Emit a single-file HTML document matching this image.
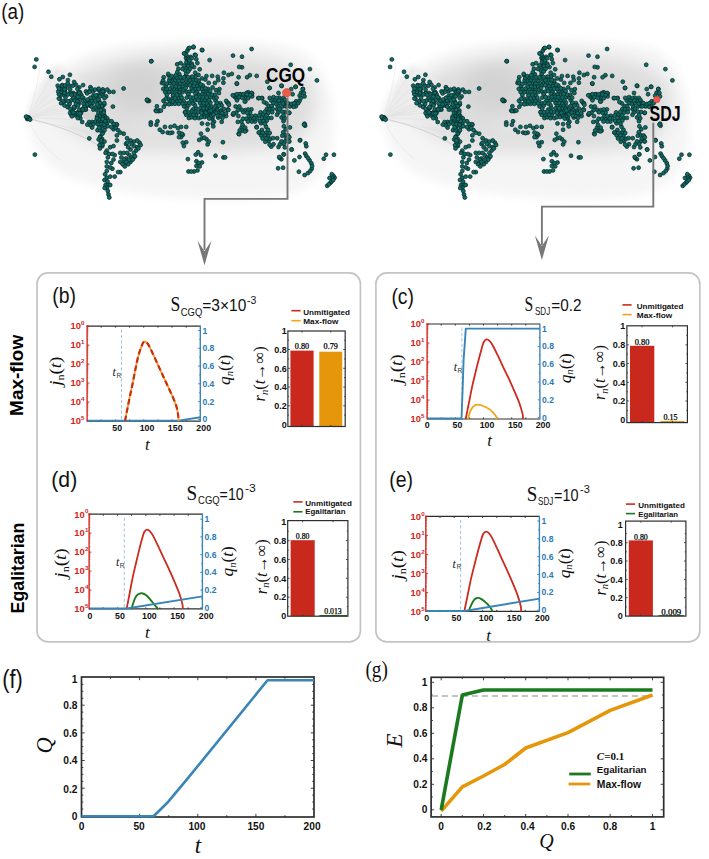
<!DOCTYPE html>
<html><head><meta charset="utf-8"><style>
html,body{margin:0;padding:0;background:#fff;overflow:hidden;width:709px;height:859px;}
svg{display:block;}
</style></head><body>
<svg width="709" height="859" viewBox="0 0 709 859" font-family="Liberation Sans, sans-serif">
<rect width="709" height="859" fill="#fff"/>
<rect x="37.0" y="272.9" width="323.4" height="369.0" rx="11" ry="11" fill="none" stroke="#c4c4c4" stroke-width="1.7"/>
<rect x="375.9" y="272.9" width="323.9" height="369.0" rx="11" ry="11" fill="none" stroke="#c4c4c4" stroke-width="1.7"/>
<clipPath id="cb"><rect x="87.1" y="326.1" width="113.2" height="96.2"/></clipPath>
<line x1="86.39999999999999" y1="326.1" x2="200.3" y2="326.1" stroke="#2e2e2e" stroke-width="1.2"/>
<line x1="87.1" y1="421.1" x2="200.3" y2="421.1" stroke="#2e2e2e" stroke-width="1.2"/>
<line x1="101.2" y1="326.1" x2="101.2" y2="327.70000000000005" stroke="#2e2e2e" stroke-width="0.9"/>
<line x1="101.2" y1="421.1" x2="101.2" y2="419.5" stroke="#2e2e2e" stroke-width="0.9"/>
<line x1="115.4" y1="326.1" x2="115.4" y2="327.70000000000005" stroke="#2e2e2e" stroke-width="0.9"/>
<line x1="115.4" y1="421.1" x2="115.4" y2="419.5" stroke="#2e2e2e" stroke-width="0.9"/>
<line x1="129.6" y1="326.1" x2="129.6" y2="327.70000000000005" stroke="#2e2e2e" stroke-width="0.9"/>
<line x1="129.6" y1="421.1" x2="129.6" y2="419.5" stroke="#2e2e2e" stroke-width="0.9"/>
<line x1="143.7" y1="326.1" x2="143.7" y2="327.70000000000005" stroke="#2e2e2e" stroke-width="0.9"/>
<line x1="143.7" y1="421.1" x2="143.7" y2="419.5" stroke="#2e2e2e" stroke-width="0.9"/>
<line x1="157.9" y1="326.1" x2="157.9" y2="327.70000000000005" stroke="#2e2e2e" stroke-width="0.9"/>
<line x1="157.9" y1="421.1" x2="157.9" y2="419.5" stroke="#2e2e2e" stroke-width="0.9"/>
<line x1="172.0" y1="326.1" x2="172.0" y2="327.70000000000005" stroke="#2e2e2e" stroke-width="0.9"/>
<line x1="172.0" y1="421.1" x2="172.0" y2="419.5" stroke="#2e2e2e" stroke-width="0.9"/>
<line x1="186.2" y1="326.1" x2="186.2" y2="327.70000000000005" stroke="#2e2e2e" stroke-width="0.9"/>
<line x1="186.2" y1="421.1" x2="186.2" y2="419.5" stroke="#2e2e2e" stroke-width="0.9"/>
<line x1="121.5" y1="329.6" x2="121.5" y2="421.1" stroke="#93bde0" stroke-width="0.9" stroke-dasharray="3.2,2.2"/>
<text x="112.6" y="375.7" font-size="12" fill="#222" font-style="italic" font-family="Liberation Serif, serif">t</text>
<text x="116.40" y="377.60" font-size="6.6" fill="#333" font-family="Liberation Sans, sans-serif">R</text>
<g clip-path="url(#cb)">
<path d="M87.10,420.60 L178.50,420.60 L200.50,417.30" fill="none" stroke="#3a85b8" stroke-width="1.9" stroke-linejoin="round" stroke-linecap="butt"/>
<path d="M125.00,421.10 C125.37,419.19 126.39,413.77 127.20,409.65 C128.02,405.53 128.98,400.79 129.90,396.38 C130.81,391.96 131.76,387.79 132.69,383.18 C133.63,378.57 134.59,373.15 135.51,368.71 C136.42,364.27 137.28,360.04 138.20,356.55 C139.11,353.05 140.16,350.03 140.99,347.72 C141.83,345.42 142.46,343.73 143.20,342.71 C143.93,341.69 144.57,341.32 145.40,341.60 C146.23,341.88 146.99,342.45 148.19,344.38 C149.39,346.32 150.77,349.34 152.60,353.21 C154.44,357.08 157.00,362.79 159.21,367.60 C161.42,372.41 163.67,377.27 165.88,382.07 C168.10,386.86 170.74,392.32 172.49,396.38 C174.25,400.43 175.49,403.44 176.41,406.39 C177.33,409.35 177.64,411.65 178.00,414.10 C178.37,416.56 178.50,419.93 178.60,421.10" fill="none" stroke="#f0a416" stroke-width="1.8" stroke-linejoin="round" stroke-linecap="butt"/>
<path d="M125.00,421.10 C125.37,419.19 126.39,413.77 127.20,409.65 C128.02,405.53 128.98,400.79 129.90,396.38 C130.81,391.96 131.76,387.79 132.69,383.18 C133.63,378.57 134.59,373.15 135.51,368.71 C136.42,364.27 137.28,360.04 138.20,356.55 C139.11,353.05 140.16,350.03 140.99,347.72 C141.83,345.42 142.46,343.73 143.20,342.71 C143.93,341.69 144.57,341.32 145.40,341.60 C146.23,341.88 146.99,342.45 148.19,344.38 C149.39,346.32 150.77,349.34 152.60,353.21 C154.44,357.08 157.00,362.79 159.21,367.60 C161.42,372.41 163.67,377.27 165.88,382.07 C168.10,386.86 170.74,392.32 172.49,396.38 C174.25,400.43 175.49,403.44 176.41,406.39 C177.33,409.35 177.64,411.65 178.00,414.10 C178.37,416.56 178.50,419.93 178.60,421.10" fill="none" stroke="#cd2a1e" stroke-width="2.2" stroke-linejoin="round" stroke-linecap="butt" stroke-dasharray="5.5,3"/>
</g>
<line x1="87.1" y1="325.5" x2="87.1" y2="421.70000000000005" stroke="#cd2a1e" stroke-width="1.4"/>
<line x1="87.1" y1="339.4" x2="88.39999999999999" y2="339.4" stroke="#cd2a1e" stroke-width="0.6"/>
<line x1="87.1" y1="336.0" x2="88.39999999999999" y2="336.0" stroke="#cd2a1e" stroke-width="0.6"/>
<line x1="87.1" y1="333.7" x2="88.39999999999999" y2="333.7" stroke="#cd2a1e" stroke-width="0.6"/>
<line x1="87.1" y1="331.8" x2="88.39999999999999" y2="331.8" stroke="#cd2a1e" stroke-width="0.6"/>
<line x1="87.1" y1="330.3" x2="88.39999999999999" y2="330.3" stroke="#cd2a1e" stroke-width="0.6"/>
<line x1="87.1" y1="329.0" x2="88.39999999999999" y2="329.0" stroke="#cd2a1e" stroke-width="0.6"/>
<line x1="87.1" y1="327.9" x2="88.39999999999999" y2="327.9" stroke="#cd2a1e" stroke-width="0.6"/>
<line x1="87.1" y1="327.0" x2="88.39999999999999" y2="327.0" stroke="#cd2a1e" stroke-width="0.6"/>
<line x1="87.1" y1="326.1" x2="89.5" y2="326.1" stroke="#cd2a1e" stroke-width="0.9"/>
<line x1="87.1" y1="358.4" x2="88.39999999999999" y2="358.4" stroke="#cd2a1e" stroke-width="0.6"/>
<line x1="87.1" y1="355.0" x2="88.39999999999999" y2="355.0" stroke="#cd2a1e" stroke-width="0.6"/>
<line x1="87.1" y1="352.7" x2="88.39999999999999" y2="352.7" stroke="#cd2a1e" stroke-width="0.6"/>
<line x1="87.1" y1="350.8" x2="88.39999999999999" y2="350.8" stroke="#cd2a1e" stroke-width="0.6"/>
<line x1="87.1" y1="349.3" x2="88.39999999999999" y2="349.3" stroke="#cd2a1e" stroke-width="0.6"/>
<line x1="87.1" y1="348.0" x2="88.39999999999999" y2="348.0" stroke="#cd2a1e" stroke-width="0.6"/>
<line x1="87.1" y1="346.9" x2="88.39999999999999" y2="346.9" stroke="#cd2a1e" stroke-width="0.6"/>
<line x1="87.1" y1="346.0" x2="88.39999999999999" y2="346.0" stroke="#cd2a1e" stroke-width="0.6"/>
<line x1="87.1" y1="345.1" x2="89.5" y2="345.1" stroke="#cd2a1e" stroke-width="0.9"/>
<line x1="87.1" y1="377.4" x2="88.39999999999999" y2="377.4" stroke="#cd2a1e" stroke-width="0.6"/>
<line x1="87.1" y1="374.0" x2="88.39999999999999" y2="374.0" stroke="#cd2a1e" stroke-width="0.6"/>
<line x1="87.1" y1="371.7" x2="88.39999999999999" y2="371.7" stroke="#cd2a1e" stroke-width="0.6"/>
<line x1="87.1" y1="369.8" x2="88.39999999999999" y2="369.8" stroke="#cd2a1e" stroke-width="0.6"/>
<line x1="87.1" y1="368.3" x2="88.39999999999999" y2="368.3" stroke="#cd2a1e" stroke-width="0.6"/>
<line x1="87.1" y1="367.0" x2="88.39999999999999" y2="367.0" stroke="#cd2a1e" stroke-width="0.6"/>
<line x1="87.1" y1="365.9" x2="88.39999999999999" y2="365.9" stroke="#cd2a1e" stroke-width="0.6"/>
<line x1="87.1" y1="365.0" x2="88.39999999999999" y2="365.0" stroke="#cd2a1e" stroke-width="0.6"/>
<line x1="87.1" y1="364.1" x2="89.5" y2="364.1" stroke="#cd2a1e" stroke-width="0.9"/>
<line x1="87.1" y1="396.4" x2="88.39999999999999" y2="396.4" stroke="#cd2a1e" stroke-width="0.6"/>
<line x1="87.1" y1="393.0" x2="88.39999999999999" y2="393.0" stroke="#cd2a1e" stroke-width="0.6"/>
<line x1="87.1" y1="390.7" x2="88.39999999999999" y2="390.7" stroke="#cd2a1e" stroke-width="0.6"/>
<line x1="87.1" y1="388.8" x2="88.39999999999999" y2="388.8" stroke="#cd2a1e" stroke-width="0.6"/>
<line x1="87.1" y1="387.3" x2="88.39999999999999" y2="387.3" stroke="#cd2a1e" stroke-width="0.6"/>
<line x1="87.1" y1="386.0" x2="88.39999999999999" y2="386.0" stroke="#cd2a1e" stroke-width="0.6"/>
<line x1="87.1" y1="384.9" x2="88.39999999999999" y2="384.9" stroke="#cd2a1e" stroke-width="0.6"/>
<line x1="87.1" y1="384.0" x2="88.39999999999999" y2="384.0" stroke="#cd2a1e" stroke-width="0.6"/>
<line x1="87.1" y1="383.1" x2="89.5" y2="383.1" stroke="#cd2a1e" stroke-width="0.9"/>
<line x1="87.1" y1="415.4" x2="88.39999999999999" y2="415.4" stroke="#cd2a1e" stroke-width="0.6"/>
<line x1="87.1" y1="412.0" x2="88.39999999999999" y2="412.0" stroke="#cd2a1e" stroke-width="0.6"/>
<line x1="87.1" y1="409.7" x2="88.39999999999999" y2="409.7" stroke="#cd2a1e" stroke-width="0.6"/>
<line x1="87.1" y1="407.8" x2="88.39999999999999" y2="407.8" stroke="#cd2a1e" stroke-width="0.6"/>
<line x1="87.1" y1="406.3" x2="88.39999999999999" y2="406.3" stroke="#cd2a1e" stroke-width="0.6"/>
<line x1="87.1" y1="405.0" x2="88.39999999999999" y2="405.0" stroke="#cd2a1e" stroke-width="0.6"/>
<line x1="87.1" y1="403.9" x2="88.39999999999999" y2="403.9" stroke="#cd2a1e" stroke-width="0.6"/>
<line x1="87.1" y1="403.0" x2="88.39999999999999" y2="403.0" stroke="#cd2a1e" stroke-width="0.6"/>
<line x1="87.1" y1="402.1" x2="89.5" y2="402.1" stroke="#cd2a1e" stroke-width="0.9"/>
<line x1="200.3" y1="325.5" x2="200.3" y2="421.70000000000005" stroke="#3a85b8" stroke-width="1.4"/>
<line x1="200.3" y1="419.4" x2="198.10000000000002" y2="419.4" stroke="#3a85b8" stroke-width="0.9"/>
<line x1="200.3" y1="410.5" x2="199.10000000000002" y2="410.5" stroke="#3a85b8" stroke-width="0.9"/>
<line x1="200.3" y1="401.6" x2="198.10000000000002" y2="401.6" stroke="#3a85b8" stroke-width="0.9"/>
<line x1="200.3" y1="392.7" x2="199.10000000000002" y2="392.7" stroke="#3a85b8" stroke-width="0.9"/>
<line x1="200.3" y1="383.8" x2="198.10000000000002" y2="383.8" stroke="#3a85b8" stroke-width="0.9"/>
<line x1="200.3" y1="374.9" x2="199.10000000000002" y2="374.9" stroke="#3a85b8" stroke-width="0.9"/>
<line x1="200.3" y1="366.1" x2="198.10000000000002" y2="366.1" stroke="#3a85b8" stroke-width="0.9"/>
<line x1="200.3" y1="357.2" x2="199.10000000000002" y2="357.2" stroke="#3a85b8" stroke-width="0.9"/>
<line x1="200.3" y1="348.3" x2="198.10000000000002" y2="348.3" stroke="#3a85b8" stroke-width="0.9"/>
<line x1="200.3" y1="339.4" x2="199.10000000000002" y2="339.4" stroke="#3a85b8" stroke-width="0.9"/>
<line x1="200.3" y1="330.5" x2="198.10000000000002" y2="330.5" stroke="#3a85b8" stroke-width="0.9"/>
<text x="202.40" y="422.40" font-size="8.6" text-anchor="start" font-weight="bold" font-style="normal" fill="#2c7bb2" font-family="Liberation Sans, sans-serif">0</text>
<text x="202.40" y="404.62" font-size="8.6" text-anchor="start" font-weight="bold" font-style="normal" fill="#2c7bb2" font-family="Liberation Sans, sans-serif">0.2</text>
<text x="202.40" y="386.84" font-size="8.6" text-anchor="start" font-weight="bold" font-style="normal" fill="#2c7bb2" font-family="Liberation Sans, sans-serif">0.4</text>
<text x="202.40" y="369.06" font-size="8.6" text-anchor="start" font-weight="bold" font-style="normal" fill="#2c7bb2" font-family="Liberation Sans, sans-serif">0.6</text>
<text x="202.40" y="351.28" font-size="8.6" text-anchor="start" font-weight="bold" font-style="normal" fill="#2c7bb2" font-family="Liberation Sans, sans-serif">0.8</text>
<text x="202.40" y="333.50" font-size="8.6" text-anchor="start" font-weight="bold" font-style="normal" fill="#2c7bb2" font-family="Liberation Sans, sans-serif">1</text>
<text x="80.90" y="329.40" font-size="9.4" text-anchor="end" font-weight="bold" fill="#cf2522" font-family="Liberation Sans, sans-serif">10</text>
<text x="81.10" y="325.20" font-size="6.2" font-weight="bold" fill="#cf2522" font-family="Liberation Sans, sans-serif">0</text>
<text x="80.90" y="348.40" font-size="9.4" text-anchor="end" font-weight="bold" fill="#cf2522" font-family="Liberation Sans, sans-serif">10</text>
<text x="81.10" y="344.20" font-size="6.2" font-weight="bold" fill="#cf2522" font-family="Liberation Sans, sans-serif">1</text>
<text x="80.90" y="367.40" font-size="9.4" text-anchor="end" font-weight="bold" fill="#cf2522" font-family="Liberation Sans, sans-serif">10</text>
<text x="81.10" y="363.20" font-size="6.2" font-weight="bold" fill="#cf2522" font-family="Liberation Sans, sans-serif">2</text>
<text x="80.90" y="386.40" font-size="9.4" text-anchor="end" font-weight="bold" fill="#cf2522" font-family="Liberation Sans, sans-serif">10</text>
<text x="81.10" y="382.20" font-size="6.2" font-weight="bold" fill="#cf2522" font-family="Liberation Sans, sans-serif">3</text>
<text x="80.90" y="405.40" font-size="9.4" text-anchor="end" font-weight="bold" fill="#cf2522" font-family="Liberation Sans, sans-serif">10</text>
<text x="81.10" y="401.20" font-size="6.2" font-weight="bold" fill="#cf2522" font-family="Liberation Sans, sans-serif">4</text>
<text x="80.90" y="424.40" font-size="9.4" text-anchor="end" font-weight="bold" fill="#cf2522" font-family="Liberation Sans, sans-serif">10</text>
<text x="81.10" y="420.20" font-size="6.2" font-weight="bold" fill="#cf2522" font-family="Liberation Sans, sans-serif">5</text>
<text x="117.20" y="430.60" font-size="8.8" text-anchor="middle" font-weight="bold" font-style="normal" fill="#111" font-family="Liberation Sans, sans-serif">50</text>
<text x="147.00" y="430.60" font-size="8.8" text-anchor="middle" font-weight="bold" font-style="normal" fill="#111" font-family="Liberation Sans, sans-serif">100</text>
<text x="175.20" y="430.60" font-size="8.8" text-anchor="middle" font-weight="bold" font-style="normal" fill="#111" font-family="Liberation Sans, sans-serif">150</text>
<text x="203.70" y="430.60" font-size="8.8" text-anchor="middle" font-weight="bold" font-style="normal" fill="#111" font-family="Liberation Sans, sans-serif">200</text>
<text x="147.30" y="449.90" font-size="17" text-anchor="middle" font-weight="normal" font-style="italic" fill="#111" font-family="Liberation Serif, serif">t</text>
<text transform="translate(61.00,371.20) rotate(-90)" x="0" y="0" font-size="17.5" text-anchor="middle" font-weight="normal" font-style="normal" fill="#111" font-family="Liberation Serif, serif" textLength="29.3" lengthAdjust="spacingAndGlyphs"><tspan font-style="italic">j</tspan><tspan font-size="11" dy="2.5">n</tspan><tspan dy="-2.5">(</tspan><tspan font-style="italic">t</tspan>)</text>
<text transform="translate(230.20,369.90) rotate(-90)" x="0" y="0" font-size="17.5" text-anchor="middle" font-weight="normal" font-style="normal" fill="#111" font-family="Liberation Serif, serif" textLength="30.0" lengthAdjust="spacingAndGlyphs"><tspan font-style="italic">q</tspan><tspan font-size="11" dy="2.5" font-style="italic">n</tspan><tspan dy="-2.5">(</tspan><tspan font-style="italic">t</tspan>)</text>
<clipPath id="cc"><rect x="427.1" y="324.0" width="112.8" height="96.2"/></clipPath>
<line x1="426.40000000000003" y1="324.0" x2="539.9" y2="324.0" stroke="#2e2e2e" stroke-width="1.2"/>
<line x1="427.1" y1="419.0" x2="539.9" y2="419.0" stroke="#2e2e2e" stroke-width="1.2"/>
<line x1="441.2" y1="324.0" x2="441.2" y2="325.6" stroke="#2e2e2e" stroke-width="0.9"/>
<line x1="441.2" y1="419.0" x2="441.2" y2="417.4" stroke="#2e2e2e" stroke-width="0.9"/>
<line x1="455.3" y1="324.0" x2="455.3" y2="325.6" stroke="#2e2e2e" stroke-width="0.9"/>
<line x1="455.3" y1="419.0" x2="455.3" y2="417.4" stroke="#2e2e2e" stroke-width="0.9"/>
<line x1="469.4" y1="324.0" x2="469.4" y2="325.6" stroke="#2e2e2e" stroke-width="0.9"/>
<line x1="469.4" y1="419.0" x2="469.4" y2="417.4" stroke="#2e2e2e" stroke-width="0.9"/>
<line x1="483.5" y1="324.0" x2="483.5" y2="325.6" stroke="#2e2e2e" stroke-width="0.9"/>
<line x1="483.5" y1="419.0" x2="483.5" y2="417.4" stroke="#2e2e2e" stroke-width="0.9"/>
<line x1="497.6" y1="324.0" x2="497.6" y2="325.6" stroke="#2e2e2e" stroke-width="0.9"/>
<line x1="497.6" y1="419.0" x2="497.6" y2="417.4" stroke="#2e2e2e" stroke-width="0.9"/>
<line x1="511.7" y1="324.0" x2="511.7" y2="325.6" stroke="#2e2e2e" stroke-width="0.9"/>
<line x1="511.7" y1="419.0" x2="511.7" y2="417.4" stroke="#2e2e2e" stroke-width="0.9"/>
<line x1="525.8" y1="324.0" x2="525.8" y2="325.6" stroke="#2e2e2e" stroke-width="0.9"/>
<line x1="525.8" y1="419.0" x2="525.8" y2="417.4" stroke="#2e2e2e" stroke-width="0.9"/>
<line x1="461.9" y1="327.5" x2="461.9" y2="419.0" stroke="#93bde0" stroke-width="0.9" stroke-dasharray="3.2,2.2"/>
<text x="453.7" y="370.7" font-size="12" fill="#222" font-style="italic" font-family="Liberation Serif, serif">t</text>
<text x="457.50" y="372.60" font-size="6.6" fill="#333" font-family="Liberation Sans, sans-serif">R</text>
<g clip-path="url(#cc)">
<path d="M468.00,419.20 C468.30,418.10 469.15,414.42 469.80,412.60 C470.45,410.78 471.08,409.48 471.90,408.30 C472.72,407.12 473.75,406.10 474.70,405.50 C475.65,404.90 476.42,404.70 477.60,404.70 C478.78,404.70 480.40,405.07 481.80,405.50 C483.20,405.93 484.70,406.65 486.00,407.30 C487.30,407.95 488.42,408.52 489.60,409.40 C490.78,410.28 492.05,411.48 493.10,412.60 C494.15,413.72 495.20,415.00 495.90,416.10 C496.60,417.20 497.07,418.68 497.30,419.20" fill="none" stroke="#f0a416" stroke-width="1.8" stroke-linejoin="round" stroke-linecap="butt"/>
<path d="M465.70,419.00 C466.23,416.33 467.83,408.36 468.90,403.00 C469.96,397.64 471.01,391.86 472.10,386.84 C473.18,381.83 474.31,377.38 475.40,372.91 C476.48,368.44 477.53,364.14 478.60,360.02 C479.66,355.89 480.91,351.19 481.79,348.16 C482.68,345.12 483.10,343.25 483.90,341.79 C484.71,340.33 485.70,339.59 486.60,339.40 C487.50,339.21 488.31,339.74 489.29,340.67 C490.28,341.60 491.07,342.46 492.50,344.97 C493.93,347.48 496.10,352.04 497.88,355.72 C499.67,359.39 501.41,363.27 503.20,367.02 C504.98,370.78 506.80,374.41 508.59,378.24 C510.37,382.08 512.12,385.90 513.90,390.03 C515.68,394.15 517.86,399.06 519.29,403.00 C520.72,406.94 521.87,411.00 522.49,413.67 C523.11,416.33 522.92,418.11 523.00,419.00" fill="none" stroke="#cd2a1e" stroke-width="1.8" stroke-linejoin="round" stroke-linecap="butt"/>
<path d="M427.10,418.50 L461.50,418.50 L462.60,390.00 L463.60,360.00 L465.80,328.60 L540.50,328.60" fill="none" stroke="#3a85b8" stroke-width="1.9" stroke-linejoin="round" stroke-linecap="butt"/>
</g>
<line x1="427.1" y1="323.4" x2="427.1" y2="419.6" stroke="#cd2a1e" stroke-width="1.4"/>
<line x1="427.1" y1="337.3" x2="428.40000000000003" y2="337.3" stroke="#cd2a1e" stroke-width="0.6"/>
<line x1="427.1" y1="333.9" x2="428.40000000000003" y2="333.9" stroke="#cd2a1e" stroke-width="0.6"/>
<line x1="427.1" y1="331.6" x2="428.40000000000003" y2="331.6" stroke="#cd2a1e" stroke-width="0.6"/>
<line x1="427.1" y1="329.7" x2="428.40000000000003" y2="329.7" stroke="#cd2a1e" stroke-width="0.6"/>
<line x1="427.1" y1="328.2" x2="428.40000000000003" y2="328.2" stroke="#cd2a1e" stroke-width="0.6"/>
<line x1="427.1" y1="326.9" x2="428.40000000000003" y2="326.9" stroke="#cd2a1e" stroke-width="0.6"/>
<line x1="427.1" y1="325.8" x2="428.40000000000003" y2="325.8" stroke="#cd2a1e" stroke-width="0.6"/>
<line x1="427.1" y1="324.9" x2="428.40000000000003" y2="324.9" stroke="#cd2a1e" stroke-width="0.6"/>
<line x1="427.1" y1="324.0" x2="429.5" y2="324.0" stroke="#cd2a1e" stroke-width="0.9"/>
<line x1="427.1" y1="356.3" x2="428.40000000000003" y2="356.3" stroke="#cd2a1e" stroke-width="0.6"/>
<line x1="427.1" y1="352.9" x2="428.40000000000003" y2="352.9" stroke="#cd2a1e" stroke-width="0.6"/>
<line x1="427.1" y1="350.6" x2="428.40000000000003" y2="350.6" stroke="#cd2a1e" stroke-width="0.6"/>
<line x1="427.1" y1="348.7" x2="428.40000000000003" y2="348.7" stroke="#cd2a1e" stroke-width="0.6"/>
<line x1="427.1" y1="347.2" x2="428.40000000000003" y2="347.2" stroke="#cd2a1e" stroke-width="0.6"/>
<line x1="427.1" y1="345.9" x2="428.40000000000003" y2="345.9" stroke="#cd2a1e" stroke-width="0.6"/>
<line x1="427.1" y1="344.8" x2="428.40000000000003" y2="344.8" stroke="#cd2a1e" stroke-width="0.6"/>
<line x1="427.1" y1="343.9" x2="428.40000000000003" y2="343.9" stroke="#cd2a1e" stroke-width="0.6"/>
<line x1="427.1" y1="343.0" x2="429.5" y2="343.0" stroke="#cd2a1e" stroke-width="0.9"/>
<line x1="427.1" y1="375.3" x2="428.40000000000003" y2="375.3" stroke="#cd2a1e" stroke-width="0.6"/>
<line x1="427.1" y1="371.9" x2="428.40000000000003" y2="371.9" stroke="#cd2a1e" stroke-width="0.6"/>
<line x1="427.1" y1="369.6" x2="428.40000000000003" y2="369.6" stroke="#cd2a1e" stroke-width="0.6"/>
<line x1="427.1" y1="367.7" x2="428.40000000000003" y2="367.7" stroke="#cd2a1e" stroke-width="0.6"/>
<line x1="427.1" y1="366.2" x2="428.40000000000003" y2="366.2" stroke="#cd2a1e" stroke-width="0.6"/>
<line x1="427.1" y1="364.9" x2="428.40000000000003" y2="364.9" stroke="#cd2a1e" stroke-width="0.6"/>
<line x1="427.1" y1="363.8" x2="428.40000000000003" y2="363.8" stroke="#cd2a1e" stroke-width="0.6"/>
<line x1="427.1" y1="362.9" x2="428.40000000000003" y2="362.9" stroke="#cd2a1e" stroke-width="0.6"/>
<line x1="427.1" y1="362.0" x2="429.5" y2="362.0" stroke="#cd2a1e" stroke-width="0.9"/>
<line x1="427.1" y1="394.3" x2="428.40000000000003" y2="394.3" stroke="#cd2a1e" stroke-width="0.6"/>
<line x1="427.1" y1="390.9" x2="428.40000000000003" y2="390.9" stroke="#cd2a1e" stroke-width="0.6"/>
<line x1="427.1" y1="388.6" x2="428.40000000000003" y2="388.6" stroke="#cd2a1e" stroke-width="0.6"/>
<line x1="427.1" y1="386.7" x2="428.40000000000003" y2="386.7" stroke="#cd2a1e" stroke-width="0.6"/>
<line x1="427.1" y1="385.2" x2="428.40000000000003" y2="385.2" stroke="#cd2a1e" stroke-width="0.6"/>
<line x1="427.1" y1="383.9" x2="428.40000000000003" y2="383.9" stroke="#cd2a1e" stroke-width="0.6"/>
<line x1="427.1" y1="382.8" x2="428.40000000000003" y2="382.8" stroke="#cd2a1e" stroke-width="0.6"/>
<line x1="427.1" y1="381.9" x2="428.40000000000003" y2="381.9" stroke="#cd2a1e" stroke-width="0.6"/>
<line x1="427.1" y1="381.0" x2="429.5" y2="381.0" stroke="#cd2a1e" stroke-width="0.9"/>
<line x1="427.1" y1="413.3" x2="428.40000000000003" y2="413.3" stroke="#cd2a1e" stroke-width="0.6"/>
<line x1="427.1" y1="409.9" x2="428.40000000000003" y2="409.9" stroke="#cd2a1e" stroke-width="0.6"/>
<line x1="427.1" y1="407.6" x2="428.40000000000003" y2="407.6" stroke="#cd2a1e" stroke-width="0.6"/>
<line x1="427.1" y1="405.7" x2="428.40000000000003" y2="405.7" stroke="#cd2a1e" stroke-width="0.6"/>
<line x1="427.1" y1="404.2" x2="428.40000000000003" y2="404.2" stroke="#cd2a1e" stroke-width="0.6"/>
<line x1="427.1" y1="402.9" x2="428.40000000000003" y2="402.9" stroke="#cd2a1e" stroke-width="0.6"/>
<line x1="427.1" y1="401.8" x2="428.40000000000003" y2="401.8" stroke="#cd2a1e" stroke-width="0.6"/>
<line x1="427.1" y1="400.9" x2="428.40000000000003" y2="400.9" stroke="#cd2a1e" stroke-width="0.6"/>
<line x1="427.1" y1="400.0" x2="429.5" y2="400.0" stroke="#cd2a1e" stroke-width="0.9"/>
<line x1="539.9" y1="323.4" x2="539.9" y2="419.6" stroke="#3a85b8" stroke-width="1.4"/>
<line x1="539.9" y1="417.6" x2="537.6999999999999" y2="417.6" stroke="#3a85b8" stroke-width="0.9"/>
<line x1="539.9" y1="408.7" x2="538.6999999999999" y2="408.7" stroke="#3a85b8" stroke-width="0.9"/>
<line x1="539.9" y1="399.8" x2="537.6999999999999" y2="399.8" stroke="#3a85b8" stroke-width="0.9"/>
<line x1="539.9" y1="390.9" x2="538.6999999999999" y2="390.9" stroke="#3a85b8" stroke-width="0.9"/>
<line x1="539.9" y1="382.0" x2="537.6999999999999" y2="382.0" stroke="#3a85b8" stroke-width="0.9"/>
<line x1="539.9" y1="373.1" x2="538.6999999999999" y2="373.1" stroke="#3a85b8" stroke-width="0.9"/>
<line x1="539.9" y1="364.3" x2="537.6999999999999" y2="364.3" stroke="#3a85b8" stroke-width="0.9"/>
<line x1="539.9" y1="355.4" x2="538.6999999999999" y2="355.4" stroke="#3a85b8" stroke-width="0.9"/>
<line x1="539.9" y1="346.5" x2="537.6999999999999" y2="346.5" stroke="#3a85b8" stroke-width="0.9"/>
<line x1="539.9" y1="337.6" x2="538.6999999999999" y2="337.6" stroke="#3a85b8" stroke-width="0.9"/>
<line x1="539.9" y1="328.7" x2="537.6999999999999" y2="328.7" stroke="#3a85b8" stroke-width="0.9"/>
<text x="542.00" y="420.60" font-size="8.6" text-anchor="start" font-weight="bold" font-style="normal" fill="#2c7bb2" font-family="Liberation Sans, sans-serif">0</text>
<text x="542.00" y="402.82" font-size="8.6" text-anchor="start" font-weight="bold" font-style="normal" fill="#2c7bb2" font-family="Liberation Sans, sans-serif">0.2</text>
<text x="542.00" y="385.04" font-size="8.6" text-anchor="start" font-weight="bold" font-style="normal" fill="#2c7bb2" font-family="Liberation Sans, sans-serif">0.4</text>
<text x="542.00" y="367.26" font-size="8.6" text-anchor="start" font-weight="bold" font-style="normal" fill="#2c7bb2" font-family="Liberation Sans, sans-serif">0.6</text>
<text x="542.00" y="349.48" font-size="8.6" text-anchor="start" font-weight="bold" font-style="normal" fill="#2c7bb2" font-family="Liberation Sans, sans-serif">0.8</text>
<text x="542.00" y="331.70" font-size="8.6" text-anchor="start" font-weight="bold" font-style="normal" fill="#2c7bb2" font-family="Liberation Sans, sans-serif">1</text>
<text x="420.90" y="327.30" font-size="9.4" text-anchor="end" font-weight="bold" fill="#cf2522" font-family="Liberation Sans, sans-serif">10</text>
<text x="421.10" y="323.10" font-size="6.2" font-weight="bold" fill="#cf2522" font-family="Liberation Sans, sans-serif">0</text>
<text x="420.90" y="346.30" font-size="9.4" text-anchor="end" font-weight="bold" fill="#cf2522" font-family="Liberation Sans, sans-serif">10</text>
<text x="421.10" y="342.10" font-size="6.2" font-weight="bold" fill="#cf2522" font-family="Liberation Sans, sans-serif">1</text>
<text x="420.90" y="365.30" font-size="9.4" text-anchor="end" font-weight="bold" fill="#cf2522" font-family="Liberation Sans, sans-serif">10</text>
<text x="421.10" y="361.10" font-size="6.2" font-weight="bold" fill="#cf2522" font-family="Liberation Sans, sans-serif">2</text>
<text x="420.90" y="384.30" font-size="9.4" text-anchor="end" font-weight="bold" fill="#cf2522" font-family="Liberation Sans, sans-serif">10</text>
<text x="421.10" y="380.10" font-size="6.2" font-weight="bold" fill="#cf2522" font-family="Liberation Sans, sans-serif">3</text>
<text x="420.90" y="403.30" font-size="9.4" text-anchor="end" font-weight="bold" fill="#cf2522" font-family="Liberation Sans, sans-serif">10</text>
<text x="421.10" y="399.10" font-size="6.2" font-weight="bold" fill="#cf2522" font-family="Liberation Sans, sans-serif">4</text>
<text x="420.90" y="422.30" font-size="9.4" text-anchor="end" font-weight="bold" fill="#cf2522" font-family="Liberation Sans, sans-serif">10</text>
<text x="421.10" y="418.10" font-size="6.2" font-weight="bold" fill="#cf2522" font-family="Liberation Sans, sans-serif">5</text>
<text x="427.30" y="427.90" font-size="8.8" text-anchor="middle" font-weight="bold" font-style="normal" fill="#111" font-family="Liberation Sans, sans-serif">0</text>
<text x="457.50" y="427.90" font-size="8.8" text-anchor="middle" font-weight="bold" font-style="normal" fill="#111" font-family="Liberation Sans, sans-serif">50</text>
<text x="487.00" y="427.90" font-size="8.8" text-anchor="middle" font-weight="bold" font-style="normal" fill="#111" font-family="Liberation Sans, sans-serif">100</text>
<text x="515.30" y="427.90" font-size="8.8" text-anchor="middle" font-weight="bold" font-style="normal" fill="#111" font-family="Liberation Sans, sans-serif">150</text>
<text x="543.00" y="427.90" font-size="8.8" text-anchor="middle" font-weight="bold" font-style="normal" fill="#111" font-family="Liberation Sans, sans-serif">200</text>
<text x="489.60" y="446.20" font-size="17" text-anchor="middle" font-weight="normal" font-style="italic" fill="#111" font-family="Liberation Serif, serif">t</text>
<text transform="translate(402.00,369.00) rotate(-90)" x="0" y="0" font-size="17.5" text-anchor="middle" font-weight="normal" font-style="normal" fill="#111" font-family="Liberation Serif, serif" textLength="29.3" lengthAdjust="spacingAndGlyphs"><tspan font-style="italic">j</tspan><tspan font-size="11" dy="2.5">n</tspan><tspan dy="-2.5">(</tspan><tspan font-style="italic">t</tspan>)</text>
<text transform="translate(570.50,368.20) rotate(-90)" x="0" y="0" font-size="17.5" text-anchor="middle" font-weight="normal" font-style="normal" fill="#111" font-family="Liberation Serif, serif" textLength="30.0" lengthAdjust="spacingAndGlyphs"><tspan font-style="italic">q</tspan><tspan font-size="11" dy="2.5" font-style="italic">n</tspan><tspan dy="-2.5">(</tspan><tspan font-style="italic">t</tspan>)</text>
<clipPath id="cd"><rect x="89.1" y="514.2" width="113.3" height="95.9"/></clipPath>
<line x1="88.39999999999999" y1="514.2" x2="202.4" y2="514.2" stroke="#2e2e2e" stroke-width="1.2"/>
<line x1="89.1" y1="608.9" x2="202.4" y2="608.9" stroke="#2e2e2e" stroke-width="1.2"/>
<line x1="103.3" y1="514.2" x2="103.3" y2="515.8000000000001" stroke="#2e2e2e" stroke-width="0.9"/>
<line x1="103.3" y1="608.9" x2="103.3" y2="607.3" stroke="#2e2e2e" stroke-width="0.9"/>
<line x1="117.4" y1="514.2" x2="117.4" y2="515.8000000000001" stroke="#2e2e2e" stroke-width="0.9"/>
<line x1="117.4" y1="608.9" x2="117.4" y2="607.3" stroke="#2e2e2e" stroke-width="0.9"/>
<line x1="131.6" y1="514.2" x2="131.6" y2="515.8000000000001" stroke="#2e2e2e" stroke-width="0.9"/>
<line x1="131.6" y1="608.9" x2="131.6" y2="607.3" stroke="#2e2e2e" stroke-width="0.9"/>
<line x1="145.8" y1="514.2" x2="145.8" y2="515.8000000000001" stroke="#2e2e2e" stroke-width="0.9"/>
<line x1="145.8" y1="608.9" x2="145.8" y2="607.3" stroke="#2e2e2e" stroke-width="0.9"/>
<line x1="159.9" y1="514.2" x2="159.9" y2="515.8000000000001" stroke="#2e2e2e" stroke-width="0.9"/>
<line x1="159.9" y1="608.9" x2="159.9" y2="607.3" stroke="#2e2e2e" stroke-width="0.9"/>
<line x1="174.1" y1="514.2" x2="174.1" y2="515.8000000000001" stroke="#2e2e2e" stroke-width="0.9"/>
<line x1="174.1" y1="608.9" x2="174.1" y2="607.3" stroke="#2e2e2e" stroke-width="0.9"/>
<line x1="188.2" y1="514.2" x2="188.2" y2="515.8000000000001" stroke="#2e2e2e" stroke-width="0.9"/>
<line x1="188.2" y1="608.9" x2="188.2" y2="607.3" stroke="#2e2e2e" stroke-width="0.9"/>
<line x1="124.3" y1="517.7" x2="124.3" y2="608.9" stroke="#93bde0" stroke-width="0.9" stroke-dasharray="3.2,2.2"/>
<text x="116.0" y="565.9" font-size="12" fill="#222" font-style="italic" font-family="Liberation Serif, serif">t</text>
<text x="119.80" y="567.80" font-size="6.6" fill="#333" font-family="Liberation Sans, sans-serif">R</text>
<g clip-path="url(#cd)">
<path d="M126.60,608.90 C127.12,606.24 128.67,598.30 129.71,592.96 C130.74,587.62 131.76,581.86 132.81,576.86 C133.86,571.87 134.97,567.44 136.02,562.99 C137.07,558.53 138.09,554.25 139.13,550.14 C140.16,546.03 141.37,541.35 142.23,538.32 C143.09,535.30 143.50,533.43 144.28,531.98 C145.06,530.53 146.02,529.79 146.90,529.60 C147.78,529.41 148.59,529.94 149.56,530.87 C150.53,531.79 151.30,532.65 152.72,535.15 C154.13,537.65 156.27,542.20 158.03,545.86 C159.79,549.52 161.51,553.38 163.27,557.12 C165.03,560.86 166.82,564.48 168.58,568.30 C170.34,572.12 172.07,575.92 173.83,580.03 C175.58,584.15 177.73,589.04 179.14,592.96 C180.55,596.89 181.69,600.93 182.30,603.59 C182.91,606.24 182.72,608.01 182.80,608.90" fill="none" stroke="#cd2a1e" stroke-width="1.8" stroke-linejoin="round" stroke-linecap="butt"/>
<path d="M131.60,609.20 C131.77,608.50 132.02,606.83 132.60,605.00 C133.18,603.17 134.23,599.95 135.10,598.20 C135.97,596.45 136.72,595.33 137.80,594.50 C138.88,593.67 140.25,593.12 141.60,593.20 C142.95,593.28 144.48,593.98 145.90,595.00 C147.32,596.02 148.68,597.70 150.10,599.30 C151.52,600.90 153.32,603.28 154.40,604.60 C155.48,605.92 155.97,606.43 156.60,607.20 C157.23,607.97 157.93,608.87 158.20,609.20" fill="none" stroke="#1a7a1e" stroke-width="1.9" stroke-linejoin="round" stroke-linecap="butt"/>
<path d="M89.10,608.50 L126.60,608.50 L202.50,596.40" fill="none" stroke="#3a85b8" stroke-width="1.9" stroke-linejoin="round" stroke-linecap="butt"/>
</g>
<line x1="89.1" y1="513.6" x2="89.1" y2="609.5" stroke="#cd2a1e" stroke-width="1.4"/>
<line x1="89.1" y1="527.4" x2="90.39999999999999" y2="527.4" stroke="#cd2a1e" stroke-width="0.6"/>
<line x1="89.1" y1="524.1" x2="90.39999999999999" y2="524.1" stroke="#cd2a1e" stroke-width="0.6"/>
<line x1="89.1" y1="521.7" x2="90.39999999999999" y2="521.7" stroke="#cd2a1e" stroke-width="0.6"/>
<line x1="89.1" y1="519.9" x2="90.39999999999999" y2="519.9" stroke="#cd2a1e" stroke-width="0.6"/>
<line x1="89.1" y1="518.4" x2="90.39999999999999" y2="518.4" stroke="#cd2a1e" stroke-width="0.6"/>
<line x1="89.1" y1="517.1" x2="90.39999999999999" y2="517.1" stroke="#cd2a1e" stroke-width="0.6"/>
<line x1="89.1" y1="516.0" x2="90.39999999999999" y2="516.0" stroke="#cd2a1e" stroke-width="0.6"/>
<line x1="89.1" y1="515.1" x2="90.39999999999999" y2="515.1" stroke="#cd2a1e" stroke-width="0.6"/>
<line x1="89.1" y1="514.2" x2="91.5" y2="514.2" stroke="#cd2a1e" stroke-width="0.9"/>
<line x1="89.1" y1="546.4" x2="90.39999999999999" y2="546.4" stroke="#cd2a1e" stroke-width="0.6"/>
<line x1="89.1" y1="543.0" x2="90.39999999999999" y2="543.0" stroke="#cd2a1e" stroke-width="0.6"/>
<line x1="89.1" y1="540.7" x2="90.39999999999999" y2="540.7" stroke="#cd2a1e" stroke-width="0.6"/>
<line x1="89.1" y1="538.8" x2="90.39999999999999" y2="538.8" stroke="#cd2a1e" stroke-width="0.6"/>
<line x1="89.1" y1="537.3" x2="90.39999999999999" y2="537.3" stroke="#cd2a1e" stroke-width="0.6"/>
<line x1="89.1" y1="536.1" x2="90.39999999999999" y2="536.1" stroke="#cd2a1e" stroke-width="0.6"/>
<line x1="89.1" y1="535.0" x2="90.39999999999999" y2="535.0" stroke="#cd2a1e" stroke-width="0.6"/>
<line x1="89.1" y1="534.0" x2="90.39999999999999" y2="534.0" stroke="#cd2a1e" stroke-width="0.6"/>
<line x1="89.1" y1="533.1" x2="91.5" y2="533.1" stroke="#cd2a1e" stroke-width="0.9"/>
<line x1="89.1" y1="565.3" x2="90.39999999999999" y2="565.3" stroke="#cd2a1e" stroke-width="0.6"/>
<line x1="89.1" y1="562.0" x2="90.39999999999999" y2="562.0" stroke="#cd2a1e" stroke-width="0.6"/>
<line x1="89.1" y1="559.6" x2="90.39999999999999" y2="559.6" stroke="#cd2a1e" stroke-width="0.6"/>
<line x1="89.1" y1="557.8" x2="90.39999999999999" y2="557.8" stroke="#cd2a1e" stroke-width="0.6"/>
<line x1="89.1" y1="556.3" x2="90.39999999999999" y2="556.3" stroke="#cd2a1e" stroke-width="0.6"/>
<line x1="89.1" y1="555.0" x2="90.39999999999999" y2="555.0" stroke="#cd2a1e" stroke-width="0.6"/>
<line x1="89.1" y1="553.9" x2="90.39999999999999" y2="553.9" stroke="#cd2a1e" stroke-width="0.6"/>
<line x1="89.1" y1="552.9" x2="90.39999999999999" y2="552.9" stroke="#cd2a1e" stroke-width="0.6"/>
<line x1="89.1" y1="552.1" x2="91.5" y2="552.1" stroke="#cd2a1e" stroke-width="0.9"/>
<line x1="89.1" y1="584.3" x2="90.39999999999999" y2="584.3" stroke="#cd2a1e" stroke-width="0.6"/>
<line x1="89.1" y1="580.9" x2="90.39999999999999" y2="580.9" stroke="#cd2a1e" stroke-width="0.6"/>
<line x1="89.1" y1="578.6" x2="90.39999999999999" y2="578.6" stroke="#cd2a1e" stroke-width="0.6"/>
<line x1="89.1" y1="576.7" x2="90.39999999999999" y2="576.7" stroke="#cd2a1e" stroke-width="0.6"/>
<line x1="89.1" y1="575.2" x2="90.39999999999999" y2="575.2" stroke="#cd2a1e" stroke-width="0.6"/>
<line x1="89.1" y1="574.0" x2="90.39999999999999" y2="574.0" stroke="#cd2a1e" stroke-width="0.6"/>
<line x1="89.1" y1="572.9" x2="90.39999999999999" y2="572.9" stroke="#cd2a1e" stroke-width="0.6"/>
<line x1="89.1" y1="571.9" x2="90.39999999999999" y2="571.9" stroke="#cd2a1e" stroke-width="0.6"/>
<line x1="89.1" y1="571.0" x2="91.5" y2="571.0" stroke="#cd2a1e" stroke-width="0.9"/>
<line x1="89.1" y1="603.2" x2="90.39999999999999" y2="603.2" stroke="#cd2a1e" stroke-width="0.6"/>
<line x1="89.1" y1="599.9" x2="90.39999999999999" y2="599.9" stroke="#cd2a1e" stroke-width="0.6"/>
<line x1="89.1" y1="597.5" x2="90.39999999999999" y2="597.5" stroke="#cd2a1e" stroke-width="0.6"/>
<line x1="89.1" y1="595.7" x2="90.39999999999999" y2="595.7" stroke="#cd2a1e" stroke-width="0.6"/>
<line x1="89.1" y1="594.2" x2="90.39999999999999" y2="594.2" stroke="#cd2a1e" stroke-width="0.6"/>
<line x1="89.1" y1="592.9" x2="90.39999999999999" y2="592.9" stroke="#cd2a1e" stroke-width="0.6"/>
<line x1="89.1" y1="591.8" x2="90.39999999999999" y2="591.8" stroke="#cd2a1e" stroke-width="0.6"/>
<line x1="89.1" y1="590.8" x2="90.39999999999999" y2="590.8" stroke="#cd2a1e" stroke-width="0.6"/>
<line x1="89.1" y1="590.0" x2="91.5" y2="590.0" stroke="#cd2a1e" stroke-width="0.9"/>
<line x1="202.4" y1="513.6" x2="202.4" y2="609.5" stroke="#3a85b8" stroke-width="1.4"/>
<line x1="202.4" y1="607.8" x2="200.20000000000002" y2="607.8" stroke="#3a85b8" stroke-width="0.9"/>
<line x1="202.4" y1="598.9" x2="201.20000000000002" y2="598.9" stroke="#3a85b8" stroke-width="0.9"/>
<line x1="202.4" y1="590.1" x2="200.20000000000002" y2="590.1" stroke="#3a85b8" stroke-width="0.9"/>
<line x1="202.4" y1="581.2" x2="201.20000000000002" y2="581.2" stroke="#3a85b8" stroke-width="0.9"/>
<line x1="202.4" y1="572.4" x2="200.20000000000002" y2="572.4" stroke="#3a85b8" stroke-width="0.9"/>
<line x1="202.4" y1="563.5" x2="201.20000000000002" y2="563.5" stroke="#3a85b8" stroke-width="0.9"/>
<line x1="202.4" y1="554.6" x2="200.20000000000002" y2="554.6" stroke="#3a85b8" stroke-width="0.9"/>
<line x1="202.4" y1="545.8" x2="201.20000000000002" y2="545.8" stroke="#3a85b8" stroke-width="0.9"/>
<line x1="202.4" y1="536.9" x2="200.20000000000002" y2="536.9" stroke="#3a85b8" stroke-width="0.9"/>
<line x1="202.4" y1="528.1" x2="201.20000000000002" y2="528.1" stroke="#3a85b8" stroke-width="0.9"/>
<line x1="202.4" y1="519.2" x2="200.20000000000002" y2="519.2" stroke="#3a85b8" stroke-width="0.9"/>
<text x="204.50" y="610.80" font-size="8.6" text-anchor="start" font-weight="bold" font-style="normal" fill="#2c7bb2" font-family="Liberation Sans, sans-serif">0</text>
<text x="204.50" y="593.08" font-size="8.6" text-anchor="start" font-weight="bold" font-style="normal" fill="#2c7bb2" font-family="Liberation Sans, sans-serif">0.2</text>
<text x="204.50" y="575.36" font-size="8.6" text-anchor="start" font-weight="bold" font-style="normal" fill="#2c7bb2" font-family="Liberation Sans, sans-serif">0.4</text>
<text x="204.50" y="557.64" font-size="8.6" text-anchor="start" font-weight="bold" font-style="normal" fill="#2c7bb2" font-family="Liberation Sans, sans-serif">0.6</text>
<text x="204.50" y="539.92" font-size="8.6" text-anchor="start" font-weight="bold" font-style="normal" fill="#2c7bb2" font-family="Liberation Sans, sans-serif">0.8</text>
<text x="204.50" y="522.20" font-size="8.6" text-anchor="start" font-weight="bold" font-style="normal" fill="#2c7bb2" font-family="Liberation Sans, sans-serif">1</text>
<text x="84.70" y="517.50" font-size="9.4" text-anchor="end" font-weight="bold" fill="#cf2522" font-family="Liberation Sans, sans-serif">10</text>
<text x="84.90" y="513.30" font-size="6.2" font-weight="bold" fill="#cf2522" font-family="Liberation Sans, sans-serif">0</text>
<text x="84.70" y="536.44" font-size="9.4" text-anchor="end" font-weight="bold" fill="#cf2522" font-family="Liberation Sans, sans-serif">10</text>
<text x="84.90" y="532.24" font-size="6.2" font-weight="bold" fill="#cf2522" font-family="Liberation Sans, sans-serif">1</text>
<text x="84.70" y="555.38" font-size="9.4" text-anchor="end" font-weight="bold" fill="#cf2522" font-family="Liberation Sans, sans-serif">10</text>
<text x="84.90" y="551.18" font-size="6.2" font-weight="bold" fill="#cf2522" font-family="Liberation Sans, sans-serif">2</text>
<text x="84.70" y="574.32" font-size="9.4" text-anchor="end" font-weight="bold" fill="#cf2522" font-family="Liberation Sans, sans-serif">10</text>
<text x="84.90" y="570.12" font-size="6.2" font-weight="bold" fill="#cf2522" font-family="Liberation Sans, sans-serif">3</text>
<text x="84.70" y="593.26" font-size="9.4" text-anchor="end" font-weight="bold" fill="#cf2522" font-family="Liberation Sans, sans-serif">10</text>
<text x="84.90" y="589.06" font-size="6.2" font-weight="bold" fill="#cf2522" font-family="Liberation Sans, sans-serif">4</text>
<text x="84.70" y="612.20" font-size="9.4" text-anchor="end" font-weight="bold" fill="#cf2522" font-family="Liberation Sans, sans-serif">10</text>
<text x="84.90" y="608.00" font-size="6.2" font-weight="bold" fill="#cf2522" font-family="Liberation Sans, sans-serif">5</text>
<text x="90.00" y="618.60" font-size="8.8" text-anchor="middle" font-weight="bold" font-style="normal" fill="#111" font-family="Liberation Sans, sans-serif">0</text>
<text x="120.00" y="618.60" font-size="8.8" text-anchor="middle" font-weight="bold" font-style="normal" fill="#111" font-family="Liberation Sans, sans-serif">50</text>
<text x="149.40" y="618.60" font-size="8.8" text-anchor="middle" font-weight="bold" font-style="normal" fill="#111" font-family="Liberation Sans, sans-serif">100</text>
<text x="177.60" y="618.60" font-size="8.8" text-anchor="middle" font-weight="bold" font-style="normal" fill="#111" font-family="Liberation Sans, sans-serif">150</text>
<text x="206.20" y="618.60" font-size="8.8" text-anchor="middle" font-weight="bold" font-style="normal" fill="#111" font-family="Liberation Sans, sans-serif">200</text>
<text x="147.30" y="637.50" font-size="17" text-anchor="middle" font-weight="normal" font-style="italic" fill="#111" font-family="Liberation Serif, serif">t</text>
<text transform="translate(66.40,563.00) rotate(-90)" x="0" y="0" font-size="17.5" text-anchor="middle" font-weight="normal" font-style="normal" fill="#111" font-family="Liberation Serif, serif" textLength="29.3" lengthAdjust="spacingAndGlyphs"><tspan font-style="italic">j</tspan><tspan font-size="11" dy="2.5">n</tspan><tspan dy="-2.5">(</tspan><tspan font-style="italic">t</tspan>)</text>
<text transform="translate(233.10,561.40) rotate(-90)" x="0" y="0" font-size="17.5" text-anchor="middle" font-weight="normal" font-style="normal" fill="#111" font-family="Liberation Serif, serif" textLength="30.0" lengthAdjust="spacingAndGlyphs"><tspan font-style="italic">q</tspan><tspan font-size="11" dy="2.5" font-style="italic">n</tspan><tspan dy="-2.5">(</tspan><tspan font-style="italic">t</tspan>)</text>
<clipPath id="ce"><rect x="425.8" y="516.4" width="113.6" height="96.2"/></clipPath>
<line x1="425.1" y1="516.4" x2="539.4" y2="516.4" stroke="#2e2e2e" stroke-width="1.2"/>
<line x1="425.8" y1="611.4" x2="539.4" y2="611.4" stroke="#2e2e2e" stroke-width="1.2"/>
<line x1="440.0" y1="516.4" x2="440.0" y2="518.0" stroke="#2e2e2e" stroke-width="0.9"/>
<line x1="440.0" y1="611.4" x2="440.0" y2="609.8" stroke="#2e2e2e" stroke-width="0.9"/>
<line x1="454.2" y1="516.4" x2="454.2" y2="518.0" stroke="#2e2e2e" stroke-width="0.9"/>
<line x1="454.2" y1="611.4" x2="454.2" y2="609.8" stroke="#2e2e2e" stroke-width="0.9"/>
<line x1="468.4" y1="516.4" x2="468.4" y2="518.0" stroke="#2e2e2e" stroke-width="0.9"/>
<line x1="468.4" y1="611.4" x2="468.4" y2="609.8" stroke="#2e2e2e" stroke-width="0.9"/>
<line x1="482.6" y1="516.4" x2="482.6" y2="518.0" stroke="#2e2e2e" stroke-width="0.9"/>
<line x1="482.6" y1="611.4" x2="482.6" y2="609.8" stroke="#2e2e2e" stroke-width="0.9"/>
<line x1="496.8" y1="516.4" x2="496.8" y2="518.0" stroke="#2e2e2e" stroke-width="0.9"/>
<line x1="496.8" y1="611.4" x2="496.8" y2="609.8" stroke="#2e2e2e" stroke-width="0.9"/>
<line x1="511.0" y1="516.4" x2="511.0" y2="518.0" stroke="#2e2e2e" stroke-width="0.9"/>
<line x1="511.0" y1="611.4" x2="511.0" y2="609.8" stroke="#2e2e2e" stroke-width="0.9"/>
<line x1="525.2" y1="516.4" x2="525.2" y2="518.0" stroke="#2e2e2e" stroke-width="0.9"/>
<line x1="525.2" y1="611.4" x2="525.2" y2="609.8" stroke="#2e2e2e" stroke-width="0.9"/>
<line x1="460.6" y1="519.9" x2="460.6" y2="611.4" stroke="#93bde0" stroke-width="0.9" stroke-dasharray="3.2,2.2"/>
<text x="452.6" y="567.5" font-size="12" fill="#222" font-style="italic" font-family="Liberation Serif, serif">t</text>
<text x="456.40" y="569.40" font-size="6.6" fill="#333" font-family="Liberation Sans, sans-serif">R</text>
<g clip-path="url(#ce)">
<path d="M464.30,611.40 C464.85,608.73 466.51,600.73 467.62,595.36 C468.73,589.99 469.82,584.19 470.94,579.16 C472.06,574.13 473.24,569.68 474.37,565.20 C475.49,560.71 476.58,556.40 477.69,552.27 C478.80,548.13 480.09,543.42 481.01,540.38 C481.93,537.33 482.37,535.46 483.20,533.99 C484.03,532.53 485.10,531.79 486.00,531.60 C486.90,531.41 487.65,531.95 488.60,532.88 C489.56,533.81 490.32,534.67 491.70,537.19 C493.09,539.70 495.19,544.27 496.91,547.96 C498.64,551.64 500.33,555.53 502.05,559.29 C503.78,563.05 505.54,566.70 507.26,570.54 C508.99,574.39 510.68,578.22 512.40,582.35 C514.12,586.49 516.23,591.41 517.61,595.36 C518.99,599.31 520.11,603.38 520.71,606.05 C521.31,608.73 521.12,610.51 521.20,611.40" fill="none" stroke="#cd2a1e" stroke-width="1.8" stroke-linejoin="round" stroke-linecap="butt"/>
<path d="M468.90,611.60 C469.03,611.08 469.35,609.52 469.70,608.50 C470.05,607.48 470.42,606.72 471.00,605.50 C471.58,604.28 472.37,602.38 473.20,601.20 C474.03,600.02 475.18,598.95 476.00,598.40 C476.82,597.85 477.28,597.83 478.10,597.90 C478.92,597.97 479.85,598.25 480.90,598.80 C481.95,599.35 483.22,600.22 484.40,601.20 C485.58,602.18 486.93,603.52 488.00,604.70 C489.07,605.88 490.03,607.15 490.80,608.30 C491.57,609.45 492.30,611.05 492.60,611.60" fill="none" stroke="#1a7a1e" stroke-width="1.9" stroke-linejoin="round" stroke-linecap="butt"/>
<path d="M425.80,611.00 L464.70,611.00 L539.60,598.60" fill="none" stroke="#3a85b8" stroke-width="1.9" stroke-linejoin="round" stroke-linecap="butt"/>
</g>
<line x1="425.8" y1="515.8" x2="425.8" y2="612.0" stroke="#cd2a1e" stroke-width="1.4"/>
<line x1="425.8" y1="529.7" x2="427.1" y2="529.7" stroke="#cd2a1e" stroke-width="0.6"/>
<line x1="425.8" y1="526.3" x2="427.1" y2="526.3" stroke="#cd2a1e" stroke-width="0.6"/>
<line x1="425.8" y1="524.0" x2="427.1" y2="524.0" stroke="#cd2a1e" stroke-width="0.6"/>
<line x1="425.8" y1="522.1" x2="427.1" y2="522.1" stroke="#cd2a1e" stroke-width="0.6"/>
<line x1="425.8" y1="520.6" x2="427.1" y2="520.6" stroke="#cd2a1e" stroke-width="0.6"/>
<line x1="425.8" y1="519.3" x2="427.1" y2="519.3" stroke="#cd2a1e" stroke-width="0.6"/>
<line x1="425.8" y1="518.2" x2="427.1" y2="518.2" stroke="#cd2a1e" stroke-width="0.6"/>
<line x1="425.8" y1="517.3" x2="427.1" y2="517.3" stroke="#cd2a1e" stroke-width="0.6"/>
<line x1="425.8" y1="516.4" x2="428.2" y2="516.4" stroke="#cd2a1e" stroke-width="0.9"/>
<line x1="425.8" y1="548.7" x2="427.1" y2="548.7" stroke="#cd2a1e" stroke-width="0.6"/>
<line x1="425.8" y1="545.3" x2="427.1" y2="545.3" stroke="#cd2a1e" stroke-width="0.6"/>
<line x1="425.8" y1="543.0" x2="427.1" y2="543.0" stroke="#cd2a1e" stroke-width="0.6"/>
<line x1="425.8" y1="541.1" x2="427.1" y2="541.1" stroke="#cd2a1e" stroke-width="0.6"/>
<line x1="425.8" y1="539.6" x2="427.1" y2="539.6" stroke="#cd2a1e" stroke-width="0.6"/>
<line x1="425.8" y1="538.3" x2="427.1" y2="538.3" stroke="#cd2a1e" stroke-width="0.6"/>
<line x1="425.8" y1="537.2" x2="427.1" y2="537.2" stroke="#cd2a1e" stroke-width="0.6"/>
<line x1="425.8" y1="536.3" x2="427.1" y2="536.3" stroke="#cd2a1e" stroke-width="0.6"/>
<line x1="425.8" y1="535.4" x2="428.2" y2="535.4" stroke="#cd2a1e" stroke-width="0.9"/>
<line x1="425.8" y1="567.7" x2="427.1" y2="567.7" stroke="#cd2a1e" stroke-width="0.6"/>
<line x1="425.8" y1="564.3" x2="427.1" y2="564.3" stroke="#cd2a1e" stroke-width="0.6"/>
<line x1="425.8" y1="562.0" x2="427.1" y2="562.0" stroke="#cd2a1e" stroke-width="0.6"/>
<line x1="425.8" y1="560.1" x2="427.1" y2="560.1" stroke="#cd2a1e" stroke-width="0.6"/>
<line x1="425.8" y1="558.6" x2="427.1" y2="558.6" stroke="#cd2a1e" stroke-width="0.6"/>
<line x1="425.8" y1="557.3" x2="427.1" y2="557.3" stroke="#cd2a1e" stroke-width="0.6"/>
<line x1="425.8" y1="556.2" x2="427.1" y2="556.2" stroke="#cd2a1e" stroke-width="0.6"/>
<line x1="425.8" y1="555.3" x2="427.1" y2="555.3" stroke="#cd2a1e" stroke-width="0.6"/>
<line x1="425.8" y1="554.4" x2="428.2" y2="554.4" stroke="#cd2a1e" stroke-width="0.9"/>
<line x1="425.8" y1="586.7" x2="427.1" y2="586.7" stroke="#cd2a1e" stroke-width="0.6"/>
<line x1="425.8" y1="583.3" x2="427.1" y2="583.3" stroke="#cd2a1e" stroke-width="0.6"/>
<line x1="425.8" y1="581.0" x2="427.1" y2="581.0" stroke="#cd2a1e" stroke-width="0.6"/>
<line x1="425.8" y1="579.1" x2="427.1" y2="579.1" stroke="#cd2a1e" stroke-width="0.6"/>
<line x1="425.8" y1="577.6" x2="427.1" y2="577.6" stroke="#cd2a1e" stroke-width="0.6"/>
<line x1="425.8" y1="576.3" x2="427.1" y2="576.3" stroke="#cd2a1e" stroke-width="0.6"/>
<line x1="425.8" y1="575.2" x2="427.1" y2="575.2" stroke="#cd2a1e" stroke-width="0.6"/>
<line x1="425.8" y1="574.3" x2="427.1" y2="574.3" stroke="#cd2a1e" stroke-width="0.6"/>
<line x1="425.8" y1="573.4" x2="428.2" y2="573.4" stroke="#cd2a1e" stroke-width="0.9"/>
<line x1="425.8" y1="605.7" x2="427.1" y2="605.7" stroke="#cd2a1e" stroke-width="0.6"/>
<line x1="425.8" y1="602.3" x2="427.1" y2="602.3" stroke="#cd2a1e" stroke-width="0.6"/>
<line x1="425.8" y1="600.0" x2="427.1" y2="600.0" stroke="#cd2a1e" stroke-width="0.6"/>
<line x1="425.8" y1="598.1" x2="427.1" y2="598.1" stroke="#cd2a1e" stroke-width="0.6"/>
<line x1="425.8" y1="596.6" x2="427.1" y2="596.6" stroke="#cd2a1e" stroke-width="0.6"/>
<line x1="425.8" y1="595.3" x2="427.1" y2="595.3" stroke="#cd2a1e" stroke-width="0.6"/>
<line x1="425.8" y1="594.2" x2="427.1" y2="594.2" stroke="#cd2a1e" stroke-width="0.6"/>
<line x1="425.8" y1="593.3" x2="427.1" y2="593.3" stroke="#cd2a1e" stroke-width="0.6"/>
<line x1="425.8" y1="592.4" x2="428.2" y2="592.4" stroke="#cd2a1e" stroke-width="0.9"/>
<line x1="539.4" y1="515.8" x2="539.4" y2="612.0" stroke="#3a85b8" stroke-width="1.4"/>
<line x1="539.4" y1="610.2" x2="537.1999999999999" y2="610.2" stroke="#3a85b8" stroke-width="0.9"/>
<line x1="539.4" y1="601.3" x2="538.1999999999999" y2="601.3" stroke="#3a85b8" stroke-width="0.9"/>
<line x1="539.4" y1="592.4" x2="537.1999999999999" y2="592.4" stroke="#3a85b8" stroke-width="0.9"/>
<line x1="539.4" y1="583.4" x2="538.1999999999999" y2="583.4" stroke="#3a85b8" stroke-width="0.9"/>
<line x1="539.4" y1="574.5" x2="537.1999999999999" y2="574.5" stroke="#3a85b8" stroke-width="0.9"/>
<line x1="539.4" y1="565.6" x2="538.1999999999999" y2="565.6" stroke="#3a85b8" stroke-width="0.9"/>
<line x1="539.4" y1="556.7" x2="537.1999999999999" y2="556.7" stroke="#3a85b8" stroke-width="0.9"/>
<line x1="539.4" y1="547.8" x2="538.1999999999999" y2="547.8" stroke="#3a85b8" stroke-width="0.9"/>
<line x1="539.4" y1="538.8" x2="537.1999999999999" y2="538.8" stroke="#3a85b8" stroke-width="0.9"/>
<line x1="539.4" y1="529.9" x2="538.1999999999999" y2="529.9" stroke="#3a85b8" stroke-width="0.9"/>
<line x1="539.4" y1="521.0" x2="537.1999999999999" y2="521.0" stroke="#3a85b8" stroke-width="0.9"/>
<text x="541.50" y="613.20" font-size="8.6" text-anchor="start" font-weight="bold" font-style="normal" fill="#2c7bb2" font-family="Liberation Sans, sans-serif">0</text>
<text x="541.50" y="595.36" font-size="8.6" text-anchor="start" font-weight="bold" font-style="normal" fill="#2c7bb2" font-family="Liberation Sans, sans-serif">0.2</text>
<text x="541.50" y="577.52" font-size="8.6" text-anchor="start" font-weight="bold" font-style="normal" fill="#2c7bb2" font-family="Liberation Sans, sans-serif">0.4</text>
<text x="541.50" y="559.68" font-size="8.6" text-anchor="start" font-weight="bold" font-style="normal" fill="#2c7bb2" font-family="Liberation Sans, sans-serif">0.6</text>
<text x="541.50" y="541.84" font-size="8.6" text-anchor="start" font-weight="bold" font-style="normal" fill="#2c7bb2" font-family="Liberation Sans, sans-serif">0.8</text>
<text x="541.50" y="524.00" font-size="8.6" text-anchor="start" font-weight="bold" font-style="normal" fill="#2c7bb2" font-family="Liberation Sans, sans-serif">1</text>
<text x="421.00" y="519.70" font-size="9.4" text-anchor="end" font-weight="bold" fill="#cf2522" font-family="Liberation Sans, sans-serif">10</text>
<text x="421.20" y="515.50" font-size="6.2" font-weight="bold" fill="#cf2522" font-family="Liberation Sans, sans-serif">0</text>
<text x="421.00" y="538.70" font-size="9.4" text-anchor="end" font-weight="bold" fill="#cf2522" font-family="Liberation Sans, sans-serif">10</text>
<text x="421.20" y="534.50" font-size="6.2" font-weight="bold" fill="#cf2522" font-family="Liberation Sans, sans-serif">1</text>
<text x="421.00" y="557.70" font-size="9.4" text-anchor="end" font-weight="bold" fill="#cf2522" font-family="Liberation Sans, sans-serif">10</text>
<text x="421.20" y="553.50" font-size="6.2" font-weight="bold" fill="#cf2522" font-family="Liberation Sans, sans-serif">2</text>
<text x="421.00" y="576.70" font-size="9.4" text-anchor="end" font-weight="bold" fill="#cf2522" font-family="Liberation Sans, sans-serif">10</text>
<text x="421.20" y="572.50" font-size="6.2" font-weight="bold" fill="#cf2522" font-family="Liberation Sans, sans-serif">3</text>
<text x="421.00" y="595.70" font-size="9.4" text-anchor="end" font-weight="bold" fill="#cf2522" font-family="Liberation Sans, sans-serif">10</text>
<text x="421.20" y="591.50" font-size="6.2" font-weight="bold" fill="#cf2522" font-family="Liberation Sans, sans-serif">4</text>
<text x="421.00" y="614.70" font-size="9.4" text-anchor="end" font-weight="bold" fill="#cf2522" font-family="Liberation Sans, sans-serif">10</text>
<text x="421.20" y="610.50" font-size="6.2" font-weight="bold" fill="#cf2522" font-family="Liberation Sans, sans-serif">5</text>
<text x="426.70" y="620.80" font-size="8.8" text-anchor="middle" font-weight="bold" font-style="normal" fill="#111" font-family="Liberation Sans, sans-serif">0</text>
<text x="456.50" y="620.80" font-size="8.8" text-anchor="middle" font-weight="bold" font-style="normal" fill="#111" font-family="Liberation Sans, sans-serif">50</text>
<text x="486.10" y="620.80" font-size="8.8" text-anchor="middle" font-weight="bold" font-style="normal" fill="#111" font-family="Liberation Sans, sans-serif">100</text>
<text x="514.20" y="620.80" font-size="8.8" text-anchor="middle" font-weight="bold" font-style="normal" fill="#111" font-family="Liberation Sans, sans-serif">150</text>
<text x="542.40" y="620.80" font-size="8.8" text-anchor="middle" font-weight="bold" font-style="normal" fill="#111" font-family="Liberation Sans, sans-serif">200</text>
<text x="488.50" y="640.50" font-size="17" text-anchor="middle" font-weight="normal" font-style="italic" fill="#111" font-family="Liberation Serif, serif">t</text>
<text transform="translate(403.10,564.90) rotate(-90)" x="0" y="0" font-size="17.5" text-anchor="middle" font-weight="normal" font-style="normal" fill="#111" font-family="Liberation Serif, serif" textLength="29.3" lengthAdjust="spacingAndGlyphs"><tspan font-style="italic">j</tspan><tspan font-size="11" dy="2.5">n</tspan><tspan dy="-2.5">(</tspan><tspan font-style="italic">t</tspan>)</text>
<text transform="translate(569.90,563.20) rotate(-90)" x="0" y="0" font-size="17.5" text-anchor="middle" font-weight="normal" font-style="normal" fill="#111" font-family="Liberation Serif, serif" textLength="30.0" lengthAdjust="spacingAndGlyphs"><tspan font-style="italic">q</tspan><tspan font-size="11" dy="2.5" font-style="italic">n</tspan><tspan dy="-2.5">(</tspan><tspan font-style="italic">t</tspan>)</text>
<rect x="290.4" y="350.6" width="23.2" height="75.9" fill="#c8291c"/>
<rect x="319.3" y="351.7" width="22.9" height="74.8" fill="#e5960a"/>
<rect x="287.9" y="331.0" width="57.3" height="95.5" fill="none" stroke="#2e2e2e" stroke-width="1.2"/>
<line x1="287.9" y1="415.1" x2="289.0" y2="415.1" stroke="#2e2e2e" stroke-width="0.8"/>
<line x1="345.2" y1="415.1" x2="344.09999999999997" y2="415.1" stroke="#2e2e2e" stroke-width="0.8"/>
<line x1="287.9" y1="405.8" x2="289.9" y2="405.8" stroke="#2e2e2e" stroke-width="0.8"/>
<line x1="345.2" y1="405.8" x2="343.2" y2="405.8" stroke="#2e2e2e" stroke-width="0.8"/>
<line x1="287.9" y1="396.4" x2="289.0" y2="396.4" stroke="#2e2e2e" stroke-width="0.8"/>
<line x1="345.2" y1="396.4" x2="344.09999999999997" y2="396.4" stroke="#2e2e2e" stroke-width="0.8"/>
<line x1="287.9" y1="387.0" x2="289.9" y2="387.0" stroke="#2e2e2e" stroke-width="0.8"/>
<line x1="345.2" y1="387.0" x2="343.2" y2="387.0" stroke="#2e2e2e" stroke-width="0.8"/>
<line x1="287.9" y1="377.6" x2="289.0" y2="377.6" stroke="#2e2e2e" stroke-width="0.8"/>
<line x1="345.2" y1="377.6" x2="344.09999999999997" y2="377.6" stroke="#2e2e2e" stroke-width="0.8"/>
<line x1="287.9" y1="368.3" x2="289.9" y2="368.3" stroke="#2e2e2e" stroke-width="0.8"/>
<line x1="345.2" y1="368.3" x2="343.2" y2="368.3" stroke="#2e2e2e" stroke-width="0.8"/>
<line x1="287.9" y1="358.9" x2="289.0" y2="358.9" stroke="#2e2e2e" stroke-width="0.8"/>
<line x1="345.2" y1="358.9" x2="344.09999999999997" y2="358.9" stroke="#2e2e2e" stroke-width="0.8"/>
<line x1="287.9" y1="349.5" x2="289.9" y2="349.5" stroke="#2e2e2e" stroke-width="0.8"/>
<line x1="345.2" y1="349.5" x2="343.2" y2="349.5" stroke="#2e2e2e" stroke-width="0.8"/>
<line x1="287.9" y1="340.2" x2="289.0" y2="340.2" stroke="#2e2e2e" stroke-width="0.8"/>
<line x1="345.2" y1="340.2" x2="344.09999999999997" y2="340.2" stroke="#2e2e2e" stroke-width="0.8"/>
<line x1="302.0" y1="331.0" x2="302.0" y2="332.6" stroke="#2e2e2e" stroke-width="0.8"/>
<line x1="302.0" y1="426.5" x2="302.0" y2="424.9" stroke="#2e2e2e" stroke-width="0.8"/>
<line x1="330.8" y1="331.0" x2="330.8" y2="332.6" stroke="#2e2e2e" stroke-width="0.8"/>
<line x1="330.8" y1="426.5" x2="330.8" y2="424.9" stroke="#2e2e2e" stroke-width="0.8"/>
<text x="286.70" y="427.80" font-size="9" text-anchor="end" font-weight="bold" font-style="normal" fill="#111" font-family="Liberation Sans, sans-serif">0</text>
<text x="286.70" y="409.06" font-size="9" text-anchor="end" font-weight="bold" font-style="normal" fill="#111" font-family="Liberation Sans, sans-serif">0.2</text>
<text x="286.70" y="390.32" font-size="9" text-anchor="end" font-weight="bold" font-style="normal" fill="#111" font-family="Liberation Sans, sans-serif">0.4</text>
<text x="286.70" y="371.58" font-size="9" text-anchor="end" font-weight="bold" font-style="normal" fill="#111" font-family="Liberation Sans, sans-serif">0.6</text>
<text x="286.70" y="352.84" font-size="9" text-anchor="end" font-weight="bold" font-style="normal" fill="#111" font-family="Liberation Sans, sans-serif">0.8</text>
<text x="286.70" y="334.10" font-size="9" text-anchor="end" font-weight="bold" font-style="normal" fill="#111" font-family="Liberation Sans, sans-serif">1</text>
<text x="302.00" y="348.70" font-size="8" text-anchor="middle" font-weight="normal" font-style="normal" fill="#000" font-family="Liberation Serif, serif" textLength="14.3" lengthAdjust="spacingAndGlyphs" stroke="#000" stroke-width="0.25">0.80</text>
<text x="330.70" y="349.20" font-size="8" text-anchor="middle" font-weight="normal" font-style="normal" fill="#000" font-family="Liberation Serif, serif" textLength="14.3" lengthAdjust="spacingAndGlyphs" stroke="#000" stroke-width="0.25">0.79</text>
<line x1="291.4" y1="310.7" x2="300.59999999999997" y2="310.7" stroke="#cd2a1e" stroke-width="1.6"/>
<text x="303.30" y="315.00" font-size="8.1" text-anchor="start" font-weight="bold" font-style="normal" fill="#111" font-family="Liberation Sans, sans-serif" textLength="46.6" lengthAdjust="spacingAndGlyphs">Unmitigated</text>
<line x1="291.4" y1="320.7" x2="300.59999999999997" y2="320.7" stroke="#f0a416" stroke-width="1.6"/>
<text x="303.30" y="323.60" font-size="8.1" text-anchor="start" font-weight="bold" font-style="normal" fill="#111" font-family="Liberation Sans, sans-serif" textLength="35.0" lengthAdjust="spacingAndGlyphs">Max-flow</text>
<text transform="translate(265.20,373.90) rotate(-90)" x="0" y="0" font-size="17" text-anchor="middle" font-weight="normal" font-style="normal" fill="#111" font-family="Liberation Serif, serif" textLength="55" lengthAdjust="spacingAndGlyphs"><tspan font-style="italic">r</tspan><tspan font-size="11" dy="2.5" font-style="italic">n</tspan><tspan dy="-2.5">(</tspan><tspan font-style="italic">t</tspan>→∞)</text>
<rect x="630.0" y="345.8" width="24.3" height="76.8" fill="#c8291c"/>
<rect x="660.4" y="421.0" width="24.1" height="1.6" fill="#e5960a"/>
<rect x="626.9" y="325.8" width="60.5" height="96.8" fill="none" stroke="#2e2e2e" stroke-width="1.2"/>
<line x1="626.9" y1="410.4" x2="628.0" y2="410.4" stroke="#2e2e2e" stroke-width="0.8"/>
<line x1="687.4" y1="410.4" x2="686.3" y2="410.4" stroke="#2e2e2e" stroke-width="0.8"/>
<line x1="626.9" y1="401.0" x2="628.9" y2="401.0" stroke="#2e2e2e" stroke-width="0.8"/>
<line x1="687.4" y1="401.0" x2="685.4" y2="401.0" stroke="#2e2e2e" stroke-width="0.8"/>
<line x1="626.9" y1="391.7" x2="628.0" y2="391.7" stroke="#2e2e2e" stroke-width="0.8"/>
<line x1="687.4" y1="391.7" x2="686.3" y2="391.7" stroke="#2e2e2e" stroke-width="0.8"/>
<line x1="626.9" y1="382.3" x2="628.9" y2="382.3" stroke="#2e2e2e" stroke-width="0.8"/>
<line x1="687.4" y1="382.3" x2="685.4" y2="382.3" stroke="#2e2e2e" stroke-width="0.8"/>
<line x1="626.9" y1="372.9" x2="628.0" y2="372.9" stroke="#2e2e2e" stroke-width="0.8"/>
<line x1="687.4" y1="372.9" x2="686.3" y2="372.9" stroke="#2e2e2e" stroke-width="0.8"/>
<line x1="626.9" y1="363.5" x2="628.9" y2="363.5" stroke="#2e2e2e" stroke-width="0.8"/>
<line x1="687.4" y1="363.5" x2="685.4" y2="363.5" stroke="#2e2e2e" stroke-width="0.8"/>
<line x1="626.9" y1="354.1" x2="628.0" y2="354.1" stroke="#2e2e2e" stroke-width="0.8"/>
<line x1="687.4" y1="354.1" x2="686.3" y2="354.1" stroke="#2e2e2e" stroke-width="0.8"/>
<line x1="626.9" y1="344.8" x2="628.9" y2="344.8" stroke="#2e2e2e" stroke-width="0.8"/>
<line x1="687.4" y1="344.8" x2="685.4" y2="344.8" stroke="#2e2e2e" stroke-width="0.8"/>
<line x1="626.9" y1="335.4" x2="628.0" y2="335.4" stroke="#2e2e2e" stroke-width="0.8"/>
<line x1="687.4" y1="335.4" x2="686.3" y2="335.4" stroke="#2e2e2e" stroke-width="0.8"/>
<line x1="642.1" y1="325.8" x2="642.1" y2="327.40000000000003" stroke="#2e2e2e" stroke-width="0.8"/>
<line x1="642.1" y1="422.6" x2="642.1" y2="421.0" stroke="#2e2e2e" stroke-width="0.8"/>
<line x1="672.5" y1="325.8" x2="672.5" y2="327.40000000000003" stroke="#2e2e2e" stroke-width="0.8"/>
<line x1="672.5" y1="422.6" x2="672.5" y2="421.0" stroke="#2e2e2e" stroke-width="0.8"/>
<text x="625.30" y="423.10" font-size="9" text-anchor="end" font-weight="bold" font-style="normal" fill="#111" font-family="Liberation Sans, sans-serif">0</text>
<text x="625.30" y="404.34" font-size="9" text-anchor="end" font-weight="bold" font-style="normal" fill="#111" font-family="Liberation Sans, sans-serif">0.2</text>
<text x="625.30" y="385.58" font-size="9" text-anchor="end" font-weight="bold" font-style="normal" fill="#111" font-family="Liberation Sans, sans-serif">0.4</text>
<text x="625.30" y="366.82" font-size="9" text-anchor="end" font-weight="bold" font-style="normal" fill="#111" font-family="Liberation Sans, sans-serif">0.6</text>
<text x="625.30" y="348.06" font-size="9" text-anchor="end" font-weight="bold" font-style="normal" fill="#111" font-family="Liberation Sans, sans-serif">0.8</text>
<text x="625.30" y="329.30" font-size="9" text-anchor="end" font-weight="bold" font-style="normal" fill="#111" font-family="Liberation Sans, sans-serif">1</text>
<text x="642.00" y="345.00" font-size="8" text-anchor="middle" font-weight="normal" font-style="normal" fill="#000" font-family="Liberation Serif, serif" textLength="14.7" lengthAdjust="spacingAndGlyphs" stroke="#000" stroke-width="0.25">0.80</text>
<text x="670.50" y="420.30" font-size="8" text-anchor="middle" font-weight="normal" font-style="normal" fill="#000" font-family="Liberation Serif, serif" textLength="14.1" lengthAdjust="spacingAndGlyphs" stroke="#000" stroke-width="0.25">0.15</text>
<line x1="622.4" y1="304.9" x2="631.6" y2="304.9" stroke="#cd2a1e" stroke-width="1.6"/>
<text x="636.80" y="308.80" font-size="8.1" text-anchor="start" font-weight="bold" font-style="normal" fill="#111" font-family="Liberation Sans, sans-serif" textLength="46.6" lengthAdjust="spacingAndGlyphs">Unmitigated</text>
<line x1="622.4" y1="314.59999999999997" x2="631.6" y2="314.59999999999997" stroke="#f0a416" stroke-width="1.6"/>
<text x="636.80" y="317.50" font-size="8.1" text-anchor="start" font-weight="bold" font-style="normal" fill="#111" font-family="Liberation Sans, sans-serif" textLength="35.5" lengthAdjust="spacingAndGlyphs">Max-flow</text>
<text transform="translate(605.00,372.60) rotate(-90)" x="0" y="0" font-size="17" text-anchor="middle" font-weight="normal" font-style="normal" fill="#111" font-family="Liberation Serif, serif" textLength="55" lengthAdjust="spacingAndGlyphs"><tspan font-style="italic">r</tspan><tspan font-size="11" dy="2.5" font-style="italic">n</tspan><tspan dy="-2.5">(</tspan><tspan font-style="italic">t</tspan>→∞)</text>
<rect x="290.6" y="540.2" width="24.1" height="76.0" fill="#c8291c"/>
<rect x="319.3" y="615.0" width="27.6" height="1.2" fill="#1a7a1e"/>
<rect x="287.7" y="520.6" width="60.2" height="95.6" fill="none" stroke="#2e2e2e" stroke-width="1.2"/>
<line x1="287.7" y1="606.6" x2="288.8" y2="606.6" stroke="#2e2e2e" stroke-width="0.8"/>
<line x1="347.9" y1="606.6" x2="346.79999999999995" y2="606.6" stroke="#2e2e2e" stroke-width="0.8"/>
<line x1="287.7" y1="597.2" x2="289.7" y2="597.2" stroke="#2e2e2e" stroke-width="0.8"/>
<line x1="347.9" y1="597.2" x2="345.9" y2="597.2" stroke="#2e2e2e" stroke-width="0.8"/>
<line x1="287.7" y1="587.7" x2="288.8" y2="587.7" stroke="#2e2e2e" stroke-width="0.8"/>
<line x1="347.9" y1="587.7" x2="346.79999999999995" y2="587.7" stroke="#2e2e2e" stroke-width="0.8"/>
<line x1="287.7" y1="578.3" x2="289.7" y2="578.3" stroke="#2e2e2e" stroke-width="0.8"/>
<line x1="347.9" y1="578.3" x2="345.9" y2="578.3" stroke="#2e2e2e" stroke-width="0.8"/>
<line x1="287.7" y1="568.9" x2="288.8" y2="568.9" stroke="#2e2e2e" stroke-width="0.8"/>
<line x1="347.9" y1="568.9" x2="346.79999999999995" y2="568.9" stroke="#2e2e2e" stroke-width="0.8"/>
<line x1="287.7" y1="559.5" x2="289.7" y2="559.5" stroke="#2e2e2e" stroke-width="0.8"/>
<line x1="347.9" y1="559.5" x2="345.9" y2="559.5" stroke="#2e2e2e" stroke-width="0.8"/>
<line x1="287.7" y1="550.1" x2="288.8" y2="550.1" stroke="#2e2e2e" stroke-width="0.8"/>
<line x1="347.9" y1="550.1" x2="346.79999999999995" y2="550.1" stroke="#2e2e2e" stroke-width="0.8"/>
<line x1="287.7" y1="540.6" x2="289.7" y2="540.6" stroke="#2e2e2e" stroke-width="0.8"/>
<line x1="347.9" y1="540.6" x2="345.9" y2="540.6" stroke="#2e2e2e" stroke-width="0.8"/>
<line x1="287.7" y1="531.2" x2="288.8" y2="531.2" stroke="#2e2e2e" stroke-width="0.8"/>
<line x1="347.9" y1="531.2" x2="346.79999999999995" y2="531.2" stroke="#2e2e2e" stroke-width="0.8"/>
<line x1="302.6" y1="520.6" x2="302.6" y2="522.2" stroke="#2e2e2e" stroke-width="0.8"/>
<line x1="302.6" y1="616.2" x2="302.6" y2="614.6" stroke="#2e2e2e" stroke-width="0.8"/>
<line x1="333.1" y1="520.6" x2="333.1" y2="522.2" stroke="#2e2e2e" stroke-width="0.8"/>
<line x1="333.1" y1="616.2" x2="333.1" y2="614.6" stroke="#2e2e2e" stroke-width="0.8"/>
<text x="286.30" y="619.30" font-size="9" text-anchor="end" font-weight="bold" font-style="normal" fill="#111" font-family="Liberation Sans, sans-serif">0</text>
<text x="286.30" y="600.46" font-size="9" text-anchor="end" font-weight="bold" font-style="normal" fill="#111" font-family="Liberation Sans, sans-serif">0.2</text>
<text x="286.30" y="581.62" font-size="9" text-anchor="end" font-weight="bold" font-style="normal" fill="#111" font-family="Liberation Sans, sans-serif">0.4</text>
<text x="286.30" y="562.78" font-size="9" text-anchor="end" font-weight="bold" font-style="normal" fill="#111" font-family="Liberation Sans, sans-serif">0.6</text>
<text x="286.30" y="543.94" font-size="9" text-anchor="end" font-weight="bold" font-style="normal" fill="#111" font-family="Liberation Sans, sans-serif">0.8</text>
<text x="286.30" y="525.10" font-size="9" text-anchor="end" font-weight="bold" font-style="normal" fill="#111" font-family="Liberation Sans, sans-serif">1</text>
<text x="302.60" y="539.40" font-size="8" text-anchor="middle" font-weight="normal" font-style="normal" fill="#000" font-family="Liberation Serif, serif" textLength="13.5" lengthAdjust="spacingAndGlyphs" stroke="#000" stroke-width="0.25">0.80</text>
<text x="333.00" y="614.40" font-size="8" text-anchor="middle" font-weight="normal" font-style="normal" fill="#000" font-family="Liberation Serif, serif" textLength="17.5" lengthAdjust="spacingAndGlyphs" stroke="#000" stroke-width="0.25">0.013</text>
<line x1="293.3" y1="501.9" x2="302.5" y2="501.9" stroke="#cd2a1e" stroke-width="1.6"/>
<text x="305.30" y="505.50" font-size="8.1" text-anchor="start" font-weight="bold" font-style="normal" fill="#111" font-family="Liberation Sans, sans-serif" textLength="46.6" lengthAdjust="spacingAndGlyphs">Unmitigated</text>
<line x1="293.3" y1="511.79999999999995" x2="302.5" y2="511.79999999999995" stroke="#1a7a1e" stroke-width="1.6"/>
<text x="305.30" y="514.20" font-size="8.1" text-anchor="start" font-weight="bold" font-style="normal" fill="#111" font-family="Liberation Sans, sans-serif" textLength="40.2" lengthAdjust="spacingAndGlyphs">Egalitarian</text>
<text transform="translate(266.90,566.70) rotate(-90)" x="0" y="0" font-size="17" text-anchor="middle" font-weight="normal" font-style="normal" fill="#111" font-family="Liberation Serif, serif" textLength="55" lengthAdjust="spacingAndGlyphs"><tspan font-style="italic">r</tspan><tspan font-size="11" dy="2.5" font-style="italic">n</tspan><tspan dy="-2.5">(</tspan><tspan font-style="italic">t</tspan>→∞)</text>
<rect x="628.8" y="540.4" width="24.1" height="75.7" fill="#c8291c"/>
<rect x="658.6" y="615.1" width="25.4" height="1.0" fill="#1a7a1e"/>
<rect x="625.6" y="521.1" width="60.3" height="95.0" fill="none" stroke="#2e2e2e" stroke-width="1.2"/>
<line x1="625.6" y1="606.9" x2="626.7" y2="606.9" stroke="#2e2e2e" stroke-width="0.8"/>
<line x1="685.9" y1="606.9" x2="684.8" y2="606.9" stroke="#2e2e2e" stroke-width="0.8"/>
<line x1="625.6" y1="597.7" x2="627.6" y2="597.7" stroke="#2e2e2e" stroke-width="0.8"/>
<line x1="685.9" y1="597.7" x2="683.9" y2="597.7" stroke="#2e2e2e" stroke-width="0.8"/>
<line x1="625.6" y1="588.6" x2="626.7" y2="588.6" stroke="#2e2e2e" stroke-width="0.8"/>
<line x1="685.9" y1="588.6" x2="684.8" y2="588.6" stroke="#2e2e2e" stroke-width="0.8"/>
<line x1="625.6" y1="579.4" x2="627.6" y2="579.4" stroke="#2e2e2e" stroke-width="0.8"/>
<line x1="685.9" y1="579.4" x2="683.9" y2="579.4" stroke="#2e2e2e" stroke-width="0.8"/>
<line x1="625.6" y1="570.2" x2="626.7" y2="570.2" stroke="#2e2e2e" stroke-width="0.8"/>
<line x1="685.9" y1="570.2" x2="684.8" y2="570.2" stroke="#2e2e2e" stroke-width="0.8"/>
<line x1="625.6" y1="561.0" x2="627.6" y2="561.0" stroke="#2e2e2e" stroke-width="0.8"/>
<line x1="685.9" y1="561.0" x2="683.9" y2="561.0" stroke="#2e2e2e" stroke-width="0.8"/>
<line x1="625.6" y1="551.8" x2="626.7" y2="551.8" stroke="#2e2e2e" stroke-width="0.8"/>
<line x1="685.9" y1="551.8" x2="684.8" y2="551.8" stroke="#2e2e2e" stroke-width="0.8"/>
<line x1="625.6" y1="542.7" x2="627.6" y2="542.7" stroke="#2e2e2e" stroke-width="0.8"/>
<line x1="685.9" y1="542.7" x2="683.9" y2="542.7" stroke="#2e2e2e" stroke-width="0.8"/>
<line x1="625.6" y1="533.5" x2="626.7" y2="533.5" stroke="#2e2e2e" stroke-width="0.8"/>
<line x1="685.9" y1="533.5" x2="684.8" y2="533.5" stroke="#2e2e2e" stroke-width="0.8"/>
<line x1="640.8" y1="521.1" x2="640.8" y2="522.7" stroke="#2e2e2e" stroke-width="0.8"/>
<line x1="640.8" y1="616.1" x2="640.8" y2="614.5" stroke="#2e2e2e" stroke-width="0.8"/>
<line x1="671.3" y1="521.1" x2="671.3" y2="522.7" stroke="#2e2e2e" stroke-width="0.8"/>
<line x1="671.3" y1="616.1" x2="671.3" y2="614.5" stroke="#2e2e2e" stroke-width="0.8"/>
<text x="622.80" y="619.40" font-size="9" text-anchor="end" font-weight="bold" font-style="normal" fill="#111" font-family="Liberation Sans, sans-serif">0</text>
<text x="622.80" y="601.04" font-size="9" text-anchor="end" font-weight="bold" font-style="normal" fill="#111" font-family="Liberation Sans, sans-serif">0.2</text>
<text x="622.80" y="582.68" font-size="9" text-anchor="end" font-weight="bold" font-style="normal" fill="#111" font-family="Liberation Sans, sans-serif">0.4</text>
<text x="622.80" y="564.32" font-size="9" text-anchor="end" font-weight="bold" font-style="normal" fill="#111" font-family="Liberation Sans, sans-serif">0.6</text>
<text x="622.80" y="545.96" font-size="9" text-anchor="end" font-weight="bold" font-style="normal" fill="#111" font-family="Liberation Sans, sans-serif">0.8</text>
<text x="622.80" y="527.60" font-size="9" text-anchor="end" font-weight="bold" font-style="normal" fill="#111" font-family="Liberation Sans, sans-serif">1</text>
<text x="640.90" y="539.50" font-size="8" text-anchor="middle" font-weight="normal" font-style="normal" fill="#000" font-family="Liberation Serif, serif" textLength="13.8" lengthAdjust="spacingAndGlyphs" stroke="#000" stroke-width="0.25">0.80</text>
<text x="671.30" y="614.50" font-size="8" text-anchor="middle" font-weight="normal" font-style="normal" fill="#000" font-family="Liberation Serif, serif" textLength="20.0" lengthAdjust="spacingAndGlyphs" stroke="#000" stroke-width="0.25">0.009</text>
<line x1="625.9" y1="504.1" x2="635.1" y2="504.1" stroke="#cd2a1e" stroke-width="1.6"/>
<text x="638.30" y="507.80" font-size="8.1" text-anchor="start" font-weight="bold" font-style="normal" fill="#111" font-family="Liberation Sans, sans-serif" textLength="46.6" lengthAdjust="spacingAndGlyphs">Unmitigated</text>
<line x1="625.9" y1="513.6" x2="635.1" y2="513.6" stroke="#1a7a1e" stroke-width="1.6"/>
<text x="638.30" y="516.70" font-size="8.1" text-anchor="start" font-weight="bold" font-style="normal" fill="#111" font-family="Liberation Sans, sans-serif" textLength="39.8" lengthAdjust="spacingAndGlyphs">Egalitarian</text>
<text transform="translate(605.70,568.10) rotate(-90)" x="0" y="0" font-size="17" text-anchor="middle" font-weight="normal" font-style="normal" fill="#111" font-family="Liberation Serif, serif" textLength="55" lengthAdjust="spacingAndGlyphs"><tspan font-style="italic">r</tspan><tspan font-size="11" dy="2.5" font-style="italic">n</tspan><tspan dy="-2.5">(</tspan><tspan font-style="italic">t</tspan>→∞)</text>
<text x="1.20" y="19.30" font-size="22" text-anchor="start" font-weight="normal" font-style="normal" fill="#111" font-family="Liberation Sans, sans-serif" textLength="23.0" lengthAdjust="spacingAndGlyphs">(a)</text>
<text x="52.30" y="302.80" font-size="21.6" text-anchor="start" font-weight="normal" font-style="normal" fill="#111" font-family="Liberation Sans, sans-serif" textLength="23.7" lengthAdjust="spacingAndGlyphs">(b)</text>
<text x="391.40" y="303.60" font-size="21.6" text-anchor="start" font-weight="normal" font-style="normal" fill="#111" font-family="Liberation Sans, sans-serif" textLength="22.6" lengthAdjust="spacingAndGlyphs">(c)</text>
<text x="51.30" y="487.30" font-size="21.6" text-anchor="start" font-weight="normal" font-style="normal" fill="#111" font-family="Liberation Sans, sans-serif" textLength="25.9" lengthAdjust="spacingAndGlyphs">(d)</text>
<text x="389.20" y="486.80" font-size="21.6" text-anchor="start" font-weight="normal" font-style="normal" fill="#111" font-family="Liberation Sans, sans-serif" textLength="23.7" lengthAdjust="spacingAndGlyphs">(e)</text>
<text x="2.30" y="687.90" font-size="26.5" text-anchor="start" font-weight="normal" font-style="normal" fill="#111" font-family="Liberation Sans, sans-serif" textLength="20.5" lengthAdjust="spacingAndGlyphs">(f)</text>
<text x="365.40" y="676.80" font-size="24" text-anchor="start" font-weight="normal" font-style="normal" fill="#111" font-family="Liberation Serif, serif" textLength="22.5" lengthAdjust="spacingAndGlyphs">(g)</text>
<text x="170.50" y="311.20" font-size="20.8" text-anchor="start" font-weight="normal" font-style="normal" fill="#111" font-family="Liberation Serif, serif" textLength="9.8" lengthAdjust="spacingAndGlyphs">S</text>
<text x="180.80" y="315.60" font-size="11.6" text-anchor="start" font-weight="normal" font-style="normal" fill="#111" font-family="Liberation Sans, sans-serif" textLength="21.5" lengthAdjust="spacingAndGlyphs">CGQ</text>
<text x="202.30" y="311.20" font-size="16.8" text-anchor="start" font-weight="normal" font-style="normal" fill="#111" font-family="Liberation Sans, sans-serif" textLength="44.0" lengthAdjust="spacingAndGlyphs">=3×10</text>
<text x="247.00" y="303.80" font-size="10.2" text-anchor="start" font-weight="normal" font-style="normal" fill="#111" font-family="Liberation Sans, sans-serif" textLength="9.3" lengthAdjust="spacingAndGlyphs">-3</text>
<text x="524.40" y="311.00" font-size="20.8" text-anchor="start" font-weight="normal" font-style="normal" fill="#111" font-family="Liberation Serif, serif" textLength="8.7" lengthAdjust="spacingAndGlyphs">S</text>
<text x="535.00" y="315.40" font-size="11.6" text-anchor="start" font-weight="normal" font-style="normal" fill="#111" font-family="Liberation Sans, sans-serif" textLength="15.2" lengthAdjust="spacingAndGlyphs">SDJ</text>
<text x="551.30" y="311.00" font-size="16.8" text-anchor="start" font-weight="normal" font-style="normal" fill="#111" font-family="Liberation Sans, sans-serif" textLength="30.2" lengthAdjust="spacingAndGlyphs">=0.2</text>
<text x="186.60" y="499.50" font-size="20.8" text-anchor="start" font-weight="normal" font-style="normal" fill="#111" font-family="Liberation Serif, serif" textLength="10.7" lengthAdjust="spacingAndGlyphs">S</text>
<text x="198.10" y="503.90" font-size="11.6" text-anchor="start" font-weight="normal" font-style="normal" fill="#111" font-family="Liberation Sans, sans-serif" textLength="21.5" lengthAdjust="spacingAndGlyphs">CGQ</text>
<text x="219.60" y="499.50" font-size="16.8" text-anchor="start" font-weight="normal" font-style="normal" fill="#111" font-family="Liberation Sans, sans-serif" textLength="24.1" lengthAdjust="spacingAndGlyphs">=10</text>
<text x="245.00" y="492.10" font-size="10.2" text-anchor="start" font-weight="normal" font-style="normal" fill="#111" font-family="Liberation Sans, sans-serif" textLength="10.8" lengthAdjust="spacingAndGlyphs">-3</text>
<text x="526.70" y="500.70" font-size="20.8" text-anchor="start" font-weight="normal" font-style="normal" fill="#111" font-family="Liberation Serif, serif" textLength="10.6" lengthAdjust="spacingAndGlyphs">S</text>
<text x="538.10" y="505.10" font-size="11.6" text-anchor="start" font-weight="normal" font-style="normal" fill="#111" font-family="Liberation Sans, sans-serif" textLength="15.2" lengthAdjust="spacingAndGlyphs">SDJ</text>
<text x="554.10" y="500.70" font-size="16.8" text-anchor="start" font-weight="normal" font-style="normal" fill="#111" font-family="Liberation Sans, sans-serif" textLength="24.5" lengthAdjust="spacingAndGlyphs">=10</text>
<text x="580.00" y="493.30" font-size="10.2" text-anchor="start" font-weight="normal" font-style="normal" fill="#111" font-family="Liberation Sans, sans-serif" textLength="9.8" lengthAdjust="spacingAndGlyphs">-3</text>
<text transform="translate(22.60,375.35) rotate(-90)" x="0" y="0" font-size="19" text-anchor="middle" font-weight="bold" font-style="normal" fill="#000" font-family="Liberation Sans, sans-serif" textLength="81.1" lengthAdjust="spacingAndGlyphs">Max-flow</text>
<text transform="translate(23.90,568.05) rotate(-90)" x="0" y="0" font-size="17.7" text-anchor="middle" font-weight="bold" font-style="normal" fill="#000" font-family="Liberation Sans, sans-serif" textLength="90.7" lengthAdjust="spacingAndGlyphs">Egalitarian</text>
<rect x="81.5" y="677.0" width="232.5" height="140.0" fill="none" stroke="#2e2e2e" stroke-width="1.7"/>
<line x1="81.5" y1="809.0" x2="83.3" y2="809.0" stroke="#2e2e2e" stroke-width="0.9"/>
<line x1="314.0" y1="809.0" x2="312.2" y2="809.0" stroke="#2e2e2e" stroke-width="0.9"/>
<line x1="81.5" y1="802.1" x2="83.3" y2="802.1" stroke="#2e2e2e" stroke-width="0.9"/>
<line x1="314.0" y1="802.1" x2="312.2" y2="802.1" stroke="#2e2e2e" stroke-width="0.9"/>
<line x1="81.5" y1="795.1" x2="83.3" y2="795.1" stroke="#2e2e2e" stroke-width="0.9"/>
<line x1="314.0" y1="795.1" x2="312.2" y2="795.1" stroke="#2e2e2e" stroke-width="0.9"/>
<line x1="81.5" y1="788.2" x2="84.7" y2="788.2" stroke="#2e2e2e" stroke-width="0.9"/>
<line x1="314.0" y1="788.2" x2="310.8" y2="788.2" stroke="#2e2e2e" stroke-width="0.9"/>
<line x1="81.5" y1="781.3" x2="83.3" y2="781.3" stroke="#2e2e2e" stroke-width="0.9"/>
<line x1="314.0" y1="781.3" x2="312.2" y2="781.3" stroke="#2e2e2e" stroke-width="0.9"/>
<line x1="81.5" y1="774.4" x2="83.3" y2="774.4" stroke="#2e2e2e" stroke-width="0.9"/>
<line x1="314.0" y1="774.4" x2="312.2" y2="774.4" stroke="#2e2e2e" stroke-width="0.9"/>
<line x1="81.5" y1="767.5" x2="83.3" y2="767.5" stroke="#2e2e2e" stroke-width="0.9"/>
<line x1="314.0" y1="767.5" x2="312.2" y2="767.5" stroke="#2e2e2e" stroke-width="0.9"/>
<line x1="81.5" y1="760.5" x2="84.7" y2="760.5" stroke="#2e2e2e" stroke-width="0.9"/>
<line x1="314.0" y1="760.5" x2="310.8" y2="760.5" stroke="#2e2e2e" stroke-width="0.9"/>
<line x1="81.5" y1="753.6" x2="83.3" y2="753.6" stroke="#2e2e2e" stroke-width="0.9"/>
<line x1="314.0" y1="753.6" x2="312.2" y2="753.6" stroke="#2e2e2e" stroke-width="0.9"/>
<line x1="81.5" y1="746.7" x2="83.3" y2="746.7" stroke="#2e2e2e" stroke-width="0.9"/>
<line x1="314.0" y1="746.7" x2="312.2" y2="746.7" stroke="#2e2e2e" stroke-width="0.9"/>
<line x1="81.5" y1="739.8" x2="83.3" y2="739.8" stroke="#2e2e2e" stroke-width="0.9"/>
<line x1="314.0" y1="739.8" x2="312.2" y2="739.8" stroke="#2e2e2e" stroke-width="0.9"/>
<line x1="81.5" y1="732.9" x2="84.7" y2="732.9" stroke="#2e2e2e" stroke-width="0.9"/>
<line x1="314.0" y1="732.9" x2="310.8" y2="732.9" stroke="#2e2e2e" stroke-width="0.9"/>
<line x1="81.5" y1="725.9" x2="83.3" y2="725.9" stroke="#2e2e2e" stroke-width="0.9"/>
<line x1="314.0" y1="725.9" x2="312.2" y2="725.9" stroke="#2e2e2e" stroke-width="0.9"/>
<line x1="81.5" y1="719.0" x2="83.3" y2="719.0" stroke="#2e2e2e" stroke-width="0.9"/>
<line x1="314.0" y1="719.0" x2="312.2" y2="719.0" stroke="#2e2e2e" stroke-width="0.9"/>
<line x1="81.5" y1="712.1" x2="83.3" y2="712.1" stroke="#2e2e2e" stroke-width="0.9"/>
<line x1="314.0" y1="712.1" x2="312.2" y2="712.1" stroke="#2e2e2e" stroke-width="0.9"/>
<line x1="81.5" y1="705.2" x2="84.7" y2="705.2" stroke="#2e2e2e" stroke-width="0.9"/>
<line x1="314.0" y1="705.2" x2="310.8" y2="705.2" stroke="#2e2e2e" stroke-width="0.9"/>
<line x1="81.5" y1="698.3" x2="83.3" y2="698.3" stroke="#2e2e2e" stroke-width="0.9"/>
<line x1="314.0" y1="698.3" x2="312.2" y2="698.3" stroke="#2e2e2e" stroke-width="0.9"/>
<line x1="81.5" y1="691.3" x2="83.3" y2="691.3" stroke="#2e2e2e" stroke-width="0.9"/>
<line x1="314.0" y1="691.3" x2="312.2" y2="691.3" stroke="#2e2e2e" stroke-width="0.9"/>
<line x1="81.5" y1="684.4" x2="83.3" y2="684.4" stroke="#2e2e2e" stroke-width="0.9"/>
<line x1="314.0" y1="684.4" x2="312.2" y2="684.4" stroke="#2e2e2e" stroke-width="0.9"/>
<line x1="110.6" y1="677.0" x2="110.6" y2="678.8" stroke="#2e2e2e" stroke-width="0.9"/>
<line x1="110.6" y1="817.0" x2="110.6" y2="815.2" stroke="#2e2e2e" stroke-width="0.9"/>
<line x1="139.6" y1="677.0" x2="139.6" y2="680.2" stroke="#2e2e2e" stroke-width="0.9"/>
<line x1="139.6" y1="817.0" x2="139.6" y2="813.8" stroke="#2e2e2e" stroke-width="0.9"/>
<line x1="168.7" y1="677.0" x2="168.7" y2="678.8" stroke="#2e2e2e" stroke-width="0.9"/>
<line x1="168.7" y1="817.0" x2="168.7" y2="815.2" stroke="#2e2e2e" stroke-width="0.9"/>
<line x1="197.8" y1="677.0" x2="197.8" y2="680.2" stroke="#2e2e2e" stroke-width="0.9"/>
<line x1="197.8" y1="817.0" x2="197.8" y2="813.8" stroke="#2e2e2e" stroke-width="0.9"/>
<line x1="226.8" y1="677.0" x2="226.8" y2="678.8" stroke="#2e2e2e" stroke-width="0.9"/>
<line x1="226.8" y1="817.0" x2="226.8" y2="815.2" stroke="#2e2e2e" stroke-width="0.9"/>
<line x1="255.9" y1="677.0" x2="255.9" y2="680.2" stroke="#2e2e2e" stroke-width="0.9"/>
<line x1="255.9" y1="817.0" x2="255.9" y2="813.8" stroke="#2e2e2e" stroke-width="0.9"/>
<line x1="284.9" y1="677.0" x2="284.9" y2="678.8" stroke="#2e2e2e" stroke-width="0.9"/>
<line x1="284.9" y1="817.0" x2="284.9" y2="815.2" stroke="#2e2e2e" stroke-width="0.9"/>
<text x="77.40" y="819.50" font-size="10.2" text-anchor="end" font-weight="bold" font-style="normal" fill="#111" font-family="Liberation Sans, sans-serif">0</text>
<text x="77.40" y="793.10" font-size="10.2" text-anchor="end" font-weight="bold" font-style="normal" fill="#111" font-family="Liberation Sans, sans-serif">0.2</text>
<text x="77.40" y="764.30" font-size="10.2" text-anchor="end" font-weight="bold" font-style="normal" fill="#111" font-family="Liberation Sans, sans-serif">0.4</text>
<text x="77.40" y="736.70" font-size="10.2" text-anchor="end" font-weight="bold" font-style="normal" fill="#111" font-family="Liberation Sans, sans-serif">0.6</text>
<text x="77.40" y="708.60" font-size="10.2" text-anchor="end" font-weight="bold" font-style="normal" fill="#111" font-family="Liberation Sans, sans-serif">0.8</text>
<text x="77.40" y="682.50" font-size="10.2" text-anchor="end" font-weight="bold" font-style="normal" fill="#111" font-family="Liberation Sans, sans-serif">1</text>
<text x="81.50" y="830.00" font-size="10.2" text-anchor="middle" font-weight="bold" font-style="normal" fill="#111" font-family="Liberation Sans, sans-serif">0</text>
<text x="139.10" y="830.00" font-size="10.2" text-anchor="middle" font-weight="bold" font-style="normal" fill="#111" font-family="Liberation Sans, sans-serif">50</text>
<text x="196.90" y="830.00" font-size="10.2" text-anchor="middle" font-weight="bold" font-style="normal" fill="#111" font-family="Liberation Sans, sans-serif">100</text>
<text x="255.90" y="830.00" font-size="10.2" text-anchor="middle" font-weight="bold" font-style="normal" fill="#111" font-family="Liberation Sans, sans-serif">150</text>
<text x="312.10" y="830.00" font-size="10.2" text-anchor="middle" font-weight="bold" font-style="normal" fill="#111" font-family="Liberation Sans, sans-serif">200</text>
<path d="M81.50,816.20 L153.60,816.20 L168.30,801.70 L186.70,779.70 L267.50,680.30 L314.00,680.30" fill="none" stroke="#3a85b8" stroke-width="2.6" stroke-linejoin="round" stroke-linecap="butt"/>
<text x="198.00" y="852.90" font-size="23" text-anchor="middle" font-weight="normal" font-style="italic" fill="#111" font-family="Liberation Serif, serif">t</text>
<text transform="translate(52.00,745.50) rotate(-90)" x="0" y="0" font-size="22.4" text-anchor="middle" font-weight="normal" font-style="italic" fill="#111" font-family="Liberation Serif, serif">Q</text>
<rect x="431.1" y="677.3" width="232.6" height="139.6" fill="none" stroke="#2e2e2e" stroke-width="1.7"/>
<line x1="431.1" y1="809.8" x2="434.1" y2="809.8" stroke="#2e2e2e" stroke-width="0.9"/>
<line x1="663.7" y1="809.8" x2="660.7" y2="809.8" stroke="#2e2e2e" stroke-width="0.9"/>
<line x1="441.2" y1="677.3" x2="441.2" y2="680.3" stroke="#2e2e2e" stroke-width="0.9"/>
<line x1="441.2" y1="816.9" x2="441.2" y2="813.9" stroke="#2e2e2e" stroke-width="0.9"/>
<line x1="431.1" y1="797.0" x2="432.90000000000003" y2="797.0" stroke="#2e2e2e" stroke-width="0.9"/>
<line x1="663.7" y1="797.0" x2="661.9000000000001" y2="797.0" stroke="#2e2e2e" stroke-width="0.9"/>
<line x1="462.3" y1="677.3" x2="462.3" y2="679.0999999999999" stroke="#2e2e2e" stroke-width="0.9"/>
<line x1="462.3" y1="816.9" x2="462.3" y2="815.1" stroke="#2e2e2e" stroke-width="0.9"/>
<line x1="431.1" y1="784.3" x2="434.1" y2="784.3" stroke="#2e2e2e" stroke-width="0.9"/>
<line x1="663.7" y1="784.3" x2="660.7" y2="784.3" stroke="#2e2e2e" stroke-width="0.9"/>
<line x1="483.5" y1="677.3" x2="483.5" y2="680.3" stroke="#2e2e2e" stroke-width="0.9"/>
<line x1="483.5" y1="816.9" x2="483.5" y2="813.9" stroke="#2e2e2e" stroke-width="0.9"/>
<line x1="431.1" y1="771.5" x2="432.90000000000003" y2="771.5" stroke="#2e2e2e" stroke-width="0.9"/>
<line x1="663.7" y1="771.5" x2="661.9000000000001" y2="771.5" stroke="#2e2e2e" stroke-width="0.9"/>
<line x1="504.6" y1="677.3" x2="504.6" y2="679.0999999999999" stroke="#2e2e2e" stroke-width="0.9"/>
<line x1="504.6" y1="816.9" x2="504.6" y2="815.1" stroke="#2e2e2e" stroke-width="0.9"/>
<line x1="431.1" y1="758.8" x2="434.1" y2="758.8" stroke="#2e2e2e" stroke-width="0.9"/>
<line x1="663.7" y1="758.8" x2="660.7" y2="758.8" stroke="#2e2e2e" stroke-width="0.9"/>
<line x1="525.7" y1="677.3" x2="525.7" y2="680.3" stroke="#2e2e2e" stroke-width="0.9"/>
<line x1="525.7" y1="816.9" x2="525.7" y2="813.9" stroke="#2e2e2e" stroke-width="0.9"/>
<line x1="431.1" y1="746.0" x2="432.90000000000003" y2="746.0" stroke="#2e2e2e" stroke-width="0.9"/>
<line x1="663.7" y1="746.0" x2="661.9000000000001" y2="746.0" stroke="#2e2e2e" stroke-width="0.9"/>
<line x1="546.9" y1="677.3" x2="546.9" y2="679.0999999999999" stroke="#2e2e2e" stroke-width="0.9"/>
<line x1="546.9" y1="816.9" x2="546.9" y2="815.1" stroke="#2e2e2e" stroke-width="0.9"/>
<line x1="431.1" y1="733.3" x2="434.1" y2="733.3" stroke="#2e2e2e" stroke-width="0.9"/>
<line x1="663.7" y1="733.3" x2="660.7" y2="733.3" stroke="#2e2e2e" stroke-width="0.9"/>
<line x1="568.0" y1="677.3" x2="568.0" y2="680.3" stroke="#2e2e2e" stroke-width="0.9"/>
<line x1="568.0" y1="816.9" x2="568.0" y2="813.9" stroke="#2e2e2e" stroke-width="0.9"/>
<line x1="431.1" y1="720.5" x2="432.90000000000003" y2="720.5" stroke="#2e2e2e" stroke-width="0.9"/>
<line x1="663.7" y1="720.5" x2="661.9000000000001" y2="720.5" stroke="#2e2e2e" stroke-width="0.9"/>
<line x1="589.1" y1="677.3" x2="589.1" y2="679.0999999999999" stroke="#2e2e2e" stroke-width="0.9"/>
<line x1="589.1" y1="816.9" x2="589.1" y2="815.1" stroke="#2e2e2e" stroke-width="0.9"/>
<line x1="431.1" y1="707.8" x2="434.1" y2="707.8" stroke="#2e2e2e" stroke-width="0.9"/>
<line x1="663.7" y1="707.8" x2="660.7" y2="707.8" stroke="#2e2e2e" stroke-width="0.9"/>
<line x1="610.2" y1="677.3" x2="610.2" y2="680.3" stroke="#2e2e2e" stroke-width="0.9"/>
<line x1="610.2" y1="816.9" x2="610.2" y2="813.9" stroke="#2e2e2e" stroke-width="0.9"/>
<line x1="431.1" y1="695.0" x2="432.90000000000003" y2="695.0" stroke="#2e2e2e" stroke-width="0.9"/>
<line x1="663.7" y1="695.0" x2="661.9000000000001" y2="695.0" stroke="#2e2e2e" stroke-width="0.9"/>
<line x1="631.4" y1="677.3" x2="631.4" y2="679.0999999999999" stroke="#2e2e2e" stroke-width="0.9"/>
<line x1="631.4" y1="816.9" x2="631.4" y2="815.1" stroke="#2e2e2e" stroke-width="0.9"/>
<line x1="431.1" y1="682.3" x2="434.1" y2="682.3" stroke="#2e2e2e" stroke-width="0.9"/>
<line x1="663.7" y1="682.3" x2="660.7" y2="682.3" stroke="#2e2e2e" stroke-width="0.9"/>
<line x1="652.5" y1="677.3" x2="652.5" y2="680.3" stroke="#2e2e2e" stroke-width="0.9"/>
<line x1="652.5" y1="816.9" x2="652.5" y2="813.9" stroke="#2e2e2e" stroke-width="0.9"/>
<text x="427.50" y="813.40" font-size="10.2" text-anchor="end" font-weight="bold" font-style="normal" fill="#111" font-family="Liberation Sans, sans-serif">0</text>
<text x="427.50" y="787.90" font-size="10.2" text-anchor="end" font-weight="bold" font-style="normal" fill="#111" font-family="Liberation Sans, sans-serif">0.2</text>
<text x="427.50" y="762.40" font-size="10.2" text-anchor="end" font-weight="bold" font-style="normal" fill="#111" font-family="Liberation Sans, sans-serif">0.4</text>
<text x="427.50" y="736.90" font-size="10.2" text-anchor="end" font-weight="bold" font-style="normal" fill="#111" font-family="Liberation Sans, sans-serif">0.6</text>
<text x="427.50" y="711.40" font-size="10.2" text-anchor="end" font-weight="bold" font-style="normal" fill="#111" font-family="Liberation Sans, sans-serif">0.8</text>
<text x="427.50" y="685.90" font-size="10.2" text-anchor="end" font-weight="bold" font-style="normal" fill="#111" font-family="Liberation Sans, sans-serif">1</text>
<text x="441.20" y="830.00" font-size="10.2" text-anchor="middle" font-weight="bold" font-style="normal" fill="#111" font-family="Liberation Sans, sans-serif">0</text>
<text x="484.40" y="830.00" font-size="10.2" text-anchor="middle" font-weight="bold" font-style="normal" fill="#111" font-family="Liberation Sans, sans-serif">0.2</text>
<text x="527.60" y="830.00" font-size="10.2" text-anchor="middle" font-weight="bold" font-style="normal" fill="#111" font-family="Liberation Sans, sans-serif">0.4</text>
<text x="568.20" y="830.00" font-size="10.2" text-anchor="middle" font-weight="bold" font-style="normal" fill="#111" font-family="Liberation Sans, sans-serif">0.6</text>
<text x="610.10" y="830.00" font-size="10.2" text-anchor="middle" font-weight="bold" font-style="normal" fill="#111" font-family="Liberation Sans, sans-serif">0.8</text>
<text x="652.50" y="830.00" font-size="10.2" text-anchor="middle" font-weight="bold" font-style="normal" fill="#111" font-family="Liberation Sans, sans-serif">1</text>
<line x1="431.90000000000003" y1="696" x2="652" y2="696" stroke="#b0b0b0" stroke-width="1.4" stroke-dasharray="6,4"/>
<path d="M441.20,811.07 L462.33,786.85 L483.46,776.01 L504.59,764.54 L525.72,747.96 L567.98,732.66 L610.24,710.35 L652.50,695.05" fill="none" stroke="#e5960a" stroke-width="3.6" stroke-linejoin="round" stroke-linecap="butt"/>
<path d="M441.20,809.80 L462.33,695.05 L483.46,689.95 L652.50,689.95" fill="none" stroke="#1a7a1e" stroke-width="3.6" stroke-linejoin="round" stroke-linecap="butt"/>
<text x="596.8" y="760.0" font-size="9.6" fill="#111" font-family="Liberation Serif, serif" font-weight="bold" textLength="27.5" lengthAdjust="spacingAndGlyphs"><tspan font-style="italic">C</tspan>=0.1</text>
<line x1="569.2" y1="774.0" x2="590.8" y2="774.0" stroke="#1a7a1e" stroke-width="2.8"/>
<text x="596.80" y="772.60" font-size="9.4" text-anchor="start" font-weight="bold" font-style="normal" fill="#111" font-family="Liberation Sans, sans-serif" textLength="49.7" lengthAdjust="spacingAndGlyphs">Egalitarian</text>
<line x1="568.6" y1="784.0" x2="590.2" y2="784.0" stroke="#e5960a" stroke-width="2.8"/>
<text x="596.80" y="787.60" font-size="10" text-anchor="start" font-weight="bold" font-style="normal" fill="#111" font-family="Liberation Sans, sans-serif" textLength="44.3" lengthAdjust="spacingAndGlyphs">Max-flow</text>
<text x="546.60" y="848.00" font-size="20" text-anchor="middle" font-weight="normal" font-style="italic" fill="#111" font-family="Liberation Serif, serif">Q</text>
<text transform="translate(402.20,740.40) rotate(-90)" x="0" y="0" font-size="23" text-anchor="middle" font-weight="normal" font-style="italic" fill="#111" font-family="Liberation Serif, serif">E</text>
<defs><g id="map"><defs><filter id="hb" x="-20%" y="-20%" width="140%" height="140%"><feGaussianBlur stdDeviation="5"/></filter>
<filter id="hb3" x="-20%" y="-20%" width="140%" height="140%"><feGaussianBlur stdDeviation="3"/></filter>
<filter id="hb2" x="-20%" y="-20%" width="140%" height="140%"><feGaussianBlur stdDeviation="8"/></filter></defs>
<g filter="url(#hb)">
<path d="M28,118 C30,80 70,55 120,46 C170,40 250,38 295,48 C325,58 336,100 333,140 C330,175 310,195 260,198 C200,202 120,196 70,178 C40,165 28,140 28,118 Z" fill="#f5f5f5"/>
</g>
<g filter="url(#hb2)">
<path d="M55,100 C65,70 110,58 170,54 C230,51 290,56 310,80 C322,100 315,135 290,145 C245,155 200,150 160,152 C120,154 85,142 68,128 C58,118 53,110 55,100 Z" fill="#dedede"/>
<ellipse cx="138" cy="88" rx="30" ry="24" fill="#d3d3d3"/>
<ellipse cx="240" cy="98" rx="32" ry="20" fill="#d6d6d6"/>
<ellipse cx="155" cy="130" rx="22" ry="12" fill="#e2e2e2"/>
</g>
<path d="M27,118 C35,95 45,75 55,65 C70,70 85,85 100,100 L100,128 C75,125 50,122 27,118 Z" fill="#ececec" filter="url(#hb3)"/>
<ellipse cx="89.5" cy="115.2" rx="7" ry="5.5" fill="#d2d2d2"/>
<g fill="none" stroke="#d8d8d8" stroke-width="0.5" opacity="0.8">
<path d="M28,118 Q45,95 62,85"/><path d="M28,118 Q48,100 70,92"/><path d="M28,118 Q50,105 78,100"/>
<path d="M28,118 Q55,108 85,106"/><path d="M28,118 Q60,112 95,112"/><path d="M28,118 Q60,118 100,122"/>
<path d="M28,118 Q55,125 90,132"/><path d="M28,118 Q45,85 58,70"/><path d="M28,118 Q40,80 40,62"/>
<path d="M28,118 Q70,100 130,95"/><path d="M28,118 Q80,105 160,100"/><path d="M28,118 Q35,140 60,160"/>
</g>
<path d="M30,119 Q70,128 100,146" fill="none" stroke="#c4c4c4" stroke-width="0.7"/>
<g fill="#0f6d68" stroke="#0a2826" stroke-width="0.75"><circle cx="83.3" cy="97.9" r="1.95"/><circle cx="76.3" cy="98.3" r="1.95"/><circle cx="101.1" cy="130.3" r="1.95"/><circle cx="80.0" cy="92.3" r="1.95"/><circle cx="291.6" cy="149.4" r="1.95"/><circle cx="296.2" cy="101.3" r="1.95"/><circle cx="207.7" cy="110.4" r="1.95"/><circle cx="169.7" cy="101.0" r="1.95"/><circle cx="204.6" cy="94.8" r="1.95"/><circle cx="60.7" cy="89.0" r="1.95"/><circle cx="240.3" cy="94.2" r="1.95"/><circle cx="281.4" cy="159.2" r="1.95"/><circle cx="236.9" cy="98.7" r="1.95"/><circle cx="282.3" cy="106.6" r="1.95"/><circle cx="191.7" cy="88.0" r="1.95"/><circle cx="29.5" cy="118.4" r="1.95"/><circle cx="81.2" cy="94.7" r="1.95"/><circle cx="158.7" cy="111.1" r="1.95"/><circle cx="62.2" cy="85.1" r="1.95"/><circle cx="98.4" cy="107.4" r="1.95"/><circle cx="209.6" cy="114.9" r="1.95"/><circle cx="112.9" cy="106.6" r="1.95"/><circle cx="101.0" cy="126.4" r="1.95"/><circle cx="258.3" cy="98.1" r="1.95"/><circle cx="188.5" cy="171.5" r="1.95"/><circle cx="198.9" cy="94.6" r="1.95"/><circle cx="285.6" cy="111.9" r="1.95"/><circle cx="268.6" cy="141.0" r="1.95"/><circle cx="304.6" cy="175.0" r="1.95"/><circle cx="246.1" cy="130.6" r="1.95"/><circle cx="268.2" cy="117.9" r="1.95"/><circle cx="79.2" cy="87.4" r="1.95"/><circle cx="69.3" cy="85.8" r="1.95"/><circle cx="286.4" cy="138.4" r="1.95"/><circle cx="183.6" cy="101.1" r="1.95"/><circle cx="191.8" cy="77.2" r="1.95"/><circle cx="245.3" cy="101.4" r="1.95"/><circle cx="73.1" cy="98.3" r="1.95"/><circle cx="213.6" cy="97.6" r="1.95"/><circle cx="241.4" cy="121.5" r="1.95"/><circle cx="267.9" cy="135.7" r="1.95"/><circle cx="277.2" cy="109.2" r="1.95"/><circle cx="242.0" cy="67.3" r="1.95"/><circle cx="149.0" cy="100.9" r="1.95"/><circle cx="195.1" cy="88.7" r="1.95"/><circle cx="173.9" cy="78.0" r="1.95"/><circle cx="261.1" cy="123.3" r="1.95"/><circle cx="248.2" cy="98.2" r="1.95"/><circle cx="184.2" cy="83.0" r="1.95"/><circle cx="260.6" cy="112.4" r="1.95"/><circle cx="208.7" cy="82.9" r="1.95"/><circle cx="63.6" cy="94.7" r="1.95"/><circle cx="175.4" cy="80.3" r="1.95"/><circle cx="259.0" cy="132.6" r="1.95"/><circle cx="171.7" cy="103.8" r="1.95"/><circle cx="62.2" cy="92.0" r="1.95"/><circle cx="202.2" cy="50.2" r="1.95"/><circle cx="205.3" cy="105.6" r="1.95"/><circle cx="179.3" cy="74.2" r="1.95"/><circle cx="311.3" cy="163.2" r="1.95"/><circle cx="251.6" cy="49.0" r="1.95"/><circle cx="214.8" cy="94.8" r="1.95"/><circle cx="147.8" cy="101.0" r="1.95"/><circle cx="301.1" cy="92.8" r="1.95"/><circle cx="100.7" cy="118.5" r="1.95"/><circle cx="60.6" cy="94.9" r="1.95"/><circle cx="197.5" cy="170.4" r="1.95"/><circle cx="269.5" cy="88.0" r="1.95"/><circle cx="188.9" cy="118.0" r="1.95"/><circle cx="186.8" cy="91.9" r="1.95"/><circle cx="185.2" cy="106.4" r="1.95"/><circle cx="116.9" cy="140.5" r="1.95"/><circle cx="195.2" cy="72.7" r="1.95"/><circle cx="218.3" cy="117.6" r="1.95"/><circle cx="102.6" cy="121.2" r="1.95"/><circle cx="248.3" cy="92.3" r="1.95"/><circle cx="73.5" cy="93.0" r="1.95"/><circle cx="266.1" cy="132.7" r="1.95"/><circle cx="98.4" cy="112.9" r="1.95"/><circle cx="300.1" cy="140.1" r="1.95"/><circle cx="105.6" cy="185.0" r="1.95"/><circle cx="169.9" cy="83.2" r="1.95"/><circle cx="71.3" cy="114.5" r="1.95"/><circle cx="188.0" cy="83.2" r="1.95"/><circle cx="218.8" cy="112.2" r="1.95"/><circle cx="102.7" cy="93.4" r="1.95"/><circle cx="106.7" cy="124.0" r="1.95"/><circle cx="70.1" cy="93.0" r="1.95"/><circle cx="241.7" cy="109.8" r="1.95"/><circle cx="176.8" cy="84.1" r="1.95"/><circle cx="187.3" cy="50.7" r="1.95"/><circle cx="196.0" cy="108.2" r="1.95"/><circle cx="282.2" cy="101.0" r="1.95"/><circle cx="168.2" cy="98.6" r="1.95"/><circle cx="223.4" cy="157.4" r="1.95"/><circle cx="78.8" cy="103.5" r="1.95"/><circle cx="279.4" cy="103.0" r="1.95"/><circle cx="278.5" cy="147.0" r="1.95"/><circle cx="189.8" cy="114.3" r="1.95"/><circle cx="64.1" cy="101.4" r="1.95"/><circle cx="171.9" cy="92.1" r="1.95"/><circle cx="102.3" cy="146.1" r="1.95"/><circle cx="250.3" cy="118.3" r="1.95"/><circle cx="184.1" cy="106.4" r="1.95"/><circle cx="130.5" cy="140.5" r="1.95"/><circle cx="234.9" cy="97.1" r="1.95"/><circle cx="185.1" cy="112.3" r="1.95"/><circle cx="114.7" cy="176.6" r="1.95"/><circle cx="99.1" cy="101.0" r="1.95"/><circle cx="283.7" cy="154.5" r="1.95"/><circle cx="176.6" cy="89.7" r="1.95"/><circle cx="65.1" cy="91.8" r="1.95"/><circle cx="67.9" cy="106.6" r="1.95"/><circle cx="334.6" cy="177.7" r="1.95"/><circle cx="254.9" cy="121.5" r="1.95"/><circle cx="123.7" cy="133.7" r="1.95"/><circle cx="207.6" cy="124.1" r="1.95"/><circle cx="176.7" cy="77.5" r="1.95"/><circle cx="34.9" cy="154.6" r="1.95"/><circle cx="284.8" cy="135.1" r="1.95"/><circle cx="252.1" cy="96.4" r="1.95"/><circle cx="104.1" cy="116.1" r="1.95"/><circle cx="223.8" cy="108.9" r="1.95"/><circle cx="261.9" cy="130.0" r="1.95"/><circle cx="219.9" cy="114.2" r="1.95"/><circle cx="198.5" cy="75.0" r="1.95"/><circle cx="193.5" cy="47.3" r="1.95"/><circle cx="212.3" cy="118.7" r="1.95"/><circle cx="300.0" cy="140.4" r="1.95"/><circle cx="106.8" cy="177.7" r="1.95"/><circle cx="305.1" cy="125.7" r="1.95"/><circle cx="126.0" cy="158.5" r="1.95"/><circle cx="82.1" cy="97.2" r="1.95"/><circle cx="299.7" cy="95.6" r="1.95"/><circle cx="262.8" cy="114.9" r="1.95"/><circle cx="255.3" cy="115.8" r="1.95"/><circle cx="96.3" cy="109.6" r="1.95"/><circle cx="194.1" cy="171.5" r="1.95"/><circle cx="277.2" cy="138.2" r="1.95"/><circle cx="295.8" cy="106.3" r="1.95"/><circle cx="67.9" cy="80.1" r="1.95"/><circle cx="182.3" cy="86.6" r="1.95"/><circle cx="107.2" cy="118.3" r="1.95"/><circle cx="85.3" cy="107.5" r="1.95"/><circle cx="130.5" cy="161.9" r="1.95"/><circle cx="195.0" cy="105.3" r="1.95"/><circle cx="279.4" cy="97.7" r="1.95"/><circle cx="97.2" cy="116.4" r="1.95"/><circle cx="222.9" cy="142.2" r="1.95"/><circle cx="290.0" cy="106.4" r="1.95"/><circle cx="268.6" cy="106.0" r="1.95"/><circle cx="188.4" cy="70.5" r="1.95"/><circle cx="102.5" cy="106.4" r="1.95"/><circle cx="199.9" cy="85.3" r="1.95"/><circle cx="60.0" cy="98.7" r="1.95"/><circle cx="216.9" cy="109.0" r="1.95"/><circle cx="304.5" cy="96.4" r="1.95"/><circle cx="75.8" cy="84.6" r="1.95"/><circle cx="186.2" cy="114.8" r="1.95"/><circle cx="104.8" cy="116.1" r="1.95"/><circle cx="104.3" cy="104.5" r="1.95"/><circle cx="241.6" cy="127.6" r="1.95"/><circle cx="173.8" cy="88.9" r="1.95"/><circle cx="215.4" cy="100.4" r="1.95"/><circle cx="126.0" cy="143.9" r="1.95"/><circle cx="226.1" cy="116.1" r="1.95"/><circle cx="100.2" cy="116.5" r="1.95"/><circle cx="269.6" cy="87.9" r="1.95"/><circle cx="289.1" cy="113.0" r="1.95"/><circle cx="217.5" cy="110.3" r="1.95"/><circle cx="271.3" cy="100.6" r="1.95"/><circle cx="163.5" cy="100.8" r="1.95"/><circle cx="295.5" cy="86.8" r="1.95"/><circle cx="293.6" cy="106.8" r="1.95"/><circle cx="108.8" cy="121.1" r="1.95"/><circle cx="206.6" cy="108.3" r="1.95"/><circle cx="205.1" cy="111.8" r="1.95"/><circle cx="102.1" cy="139.0" r="1.95"/><circle cx="65.6" cy="88.5" r="1.95"/><circle cx="27.3" cy="119.0" r="1.95"/><circle cx="203.1" cy="91.5" r="1.95"/><circle cx="212.3" cy="112.2" r="1.95"/><circle cx="259.8" cy="121.0" r="1.95"/><circle cx="239.2" cy="66.9" r="1.95"/><circle cx="196.1" cy="115.0" r="1.95"/><circle cx="189.5" cy="91.7" r="1.95"/><circle cx="92.1" cy="122.0" r="1.95"/><circle cx="74.6" cy="100.6" r="1.95"/><circle cx="283.4" cy="97.9" r="1.95"/><circle cx="187.8" cy="65.0" r="1.95"/><circle cx="191.2" cy="83.2" r="1.95"/><circle cx="266.4" cy="103.4" r="1.95"/><circle cx="186.0" cy="58.0" r="1.95"/><circle cx="174.5" cy="125.8" r="1.95"/><circle cx="168.4" cy="75.0" r="1.95"/><circle cx="219.4" cy="89.1" r="1.95"/><circle cx="327.2" cy="185.8" r="1.95"/><circle cx="171.6" cy="80.6" r="1.95"/><circle cx="100.5" cy="91.5" r="1.95"/><circle cx="93.6" cy="124.1" r="1.95"/><circle cx="202.2" cy="94.4" r="1.95"/><circle cx="186.8" cy="103.5" r="1.95"/><circle cx="187.0" cy="61.0" r="1.95"/><circle cx="110.2" cy="176.6" r="1.95"/><circle cx="185.4" cy="76.4" r="1.95"/><circle cx="197.4" cy="63.1" r="1.95"/><circle cx="285.8" cy="129.3" r="1.95"/><circle cx="77.4" cy="88.8" r="1.95"/><circle cx="90.8" cy="99.3" r="1.95"/><circle cx="186.5" cy="62.2" r="1.95"/><circle cx="256.7" cy="126.9" r="1.95"/><circle cx="239.6" cy="94.4" r="1.95"/><circle cx="182.6" cy="92.1" r="1.95"/><circle cx="197.0" cy="85.8" r="1.95"/><circle cx="273.6" cy="97.1" r="1.95"/><circle cx="163.3" cy="88.9" r="1.95"/><circle cx="181.1" cy="137.1" r="1.95"/><circle cx="194.9" cy="54.8" r="1.95"/><circle cx="86.0" cy="91.4" r="1.95"/><circle cx="201.5" cy="100.0" r="1.95"/><circle cx="116.9" cy="124.7" r="1.95"/><circle cx="275.3" cy="100.3" r="1.95"/><circle cx="87.0" cy="105.7" r="1.95"/><circle cx="333.4" cy="175.8" r="1.95"/><circle cx="199.9" cy="96.7" r="1.95"/><circle cx="280.0" cy="144.2" r="1.95"/><circle cx="116.9" cy="135.4" r="1.95"/><circle cx="165.8" cy="85.9" r="1.95"/><circle cx="299.5" cy="100.9" r="1.95"/><circle cx="208.3" cy="113.0" r="1.95"/><circle cx="62.3" cy="85.7" r="1.95"/><circle cx="326.0" cy="154.7" r="1.95"/><circle cx="100.5" cy="115.5" r="1.95"/><circle cx="80.4" cy="118.3" r="1.95"/><circle cx="215.7" cy="105.5" r="1.95"/><circle cx="165.5" cy="103.9" r="1.95"/><circle cx="191.8" cy="117.3" r="1.95"/><circle cx="193.5" cy="115.0" r="1.95"/><circle cx="92.7" cy="103.0" r="1.95"/><circle cx="172.5" cy="98.2" r="1.95"/><circle cx="180.3" cy="95.6" r="1.95"/><circle cx="234.6" cy="95.3" r="1.95"/><circle cx="89.1" cy="122.1" r="1.95"/><circle cx="212.2" cy="112.5" r="1.95"/><circle cx="288.8" cy="141.2" r="1.95"/><circle cx="195.0" cy="118.1" r="1.95"/><circle cx="179.0" cy="137.1" r="1.95"/><circle cx="111.3" cy="163.0" r="1.95"/><circle cx="147.3" cy="99.8" r="1.95"/><circle cx="177.9" cy="128.1" r="1.95"/><circle cx="256.9" cy="118.4" r="1.95"/><circle cx="201.7" cy="89.0" r="1.95"/><circle cx="198.7" cy="82.6" r="1.95"/><circle cx="285.3" cy="106.1" r="1.95"/><circle cx="197.0" cy="91.5" r="1.95"/><circle cx="137.2" cy="147.2" r="1.95"/><circle cx="110.2" cy="147.2" r="1.95"/><circle cx="278.1" cy="168.3" r="1.95"/><circle cx="82.2" cy="122.0" r="1.95"/><circle cx="220.9" cy="110.5" r="1.95"/><circle cx="193.7" cy="85.9" r="1.95"/><circle cx="217.7" cy="76.7" r="1.95"/><circle cx="74.6" cy="94.3" r="1.95"/><circle cx="178.9" cy="80.8" r="1.95"/><circle cx="245.1" cy="127.6" r="1.95"/><circle cx="156.9" cy="106.3" r="1.95"/><circle cx="74.6" cy="107.7" r="1.95"/><circle cx="205.3" cy="79.5" r="1.95"/><circle cx="266.8" cy="109.2" r="1.95"/><circle cx="311.7" cy="168.8" r="1.95"/><circle cx="218.8" cy="112.7" r="1.95"/><circle cx="98.8" cy="94.7" r="1.95"/><circle cx="227.3" cy="102.6" r="1.95"/><circle cx="96.8" cy="96.6" r="1.95"/><circle cx="59.4" cy="79.3" r="1.95"/><circle cx="291.6" cy="149.6" r="1.95"/><circle cx="281.7" cy="86.0" r="1.95"/><circle cx="162.0" cy="82.9" r="1.95"/><circle cx="120.3" cy="132.6" r="1.95"/><circle cx="200.9" cy="155.1" r="1.95"/><circle cx="165.9" cy="98.6" r="1.95"/><circle cx="103.5" cy="124.1" r="1.95"/><circle cx="332.0" cy="177.0" r="1.95"/><circle cx="277.9" cy="106.4" r="1.95"/><circle cx="238.1" cy="110.0" r="1.95"/><circle cx="180.6" cy="77.2" r="1.95"/><circle cx="102.5" cy="144.5" r="1.95"/><circle cx="108.4" cy="184.6" r="1.95"/><circle cx="225.1" cy="157.4" r="1.95"/><circle cx="266.8" cy="120.6" r="1.95"/><circle cx="72.7" cy="85.8" r="1.95"/><circle cx="61.1" cy="91.9" r="1.95"/><circle cx="128.2" cy="164.2" r="1.95"/><circle cx="223.9" cy="72.7" r="1.95"/><circle cx="150.8" cy="122.4" r="1.95"/><circle cx="182.8" cy="134.8" r="1.95"/><circle cx="104.5" cy="141.6" r="1.95"/><circle cx="227.9" cy="109.4" r="1.95"/><circle cx="163.7" cy="77.2" r="1.95"/><circle cx="65.5" cy="97.6" r="1.95"/><circle cx="107.0" cy="187.5" r="1.95"/><circle cx="124.3" cy="159.6" r="1.95"/><circle cx="103.8" cy="110.5" r="1.95"/><circle cx="80.9" cy="113.2" r="1.95"/><circle cx="101.7" cy="94.6" r="1.95"/><circle cx="295.7" cy="86.8" r="1.95"/><circle cx="113.5" cy="91.9" r="1.95"/><circle cx="102.8" cy="132.8" r="1.95"/><circle cx="187.0" cy="79.4" r="1.95"/><circle cx="120.3" cy="161.9" r="1.95"/><circle cx="218.9" cy="93.0" r="1.95"/><circle cx="182.6" cy="80.8" r="1.95"/><circle cx="248.9" cy="116.0" r="1.95"/><circle cx="292.6" cy="94.2" r="1.95"/><circle cx="70.1" cy="112.9" r="1.95"/><circle cx="200.1" cy="103.1" r="1.95"/><circle cx="110.2" cy="185.0" r="1.95"/><circle cx="195.5" cy="111.6" r="1.95"/><circle cx="90.6" cy="105.9" r="1.95"/><circle cx="78.0" cy="93.0" r="1.95"/><circle cx="71.9" cy="116.3" r="1.95"/><circle cx="223.4" cy="78.4" r="1.95"/><circle cx="186.2" cy="142.2" r="1.95"/><circle cx="77.8" cy="112.4" r="1.95"/><circle cx="79.3" cy="109.5" r="1.95"/><circle cx="245.3" cy="110.1" r="1.95"/><circle cx="244.9" cy="97.2" r="1.95"/><circle cx="226.2" cy="100.9" r="1.95"/><circle cx="105.2" cy="126.9" r="1.95"/><circle cx="109.0" cy="154.0" r="1.95"/><circle cx="215.5" cy="155.7" r="1.95"/><circle cx="64.5" cy="93.0" r="1.95"/><circle cx="79.5" cy="115.6" r="1.95"/><circle cx="305.7" cy="143.4" r="1.95"/><circle cx="228.4" cy="75.0" r="1.95"/><circle cx="212.4" cy="117.0" r="1.95"/><circle cx="26.7" cy="117.0" r="1.95"/><circle cx="283.3" cy="103.5" r="1.95"/><circle cx="270.4" cy="138.8" r="1.95"/><circle cx="104.5" cy="180.0" r="1.95"/><circle cx="262.2" cy="98.1" r="1.95"/><circle cx="207.9" cy="105.3" r="1.95"/><circle cx="192.9" cy="109.4" r="1.95"/><circle cx="104.3" cy="102.9" r="1.95"/><circle cx="281.6" cy="117.5" r="1.95"/><circle cx="194.9" cy="100.5" r="1.95"/><circle cx="90.4" cy="87.2" r="1.95"/><circle cx="202.0" cy="162.5" r="1.95"/><circle cx="101.9" cy="112.2" r="1.95"/><circle cx="236.1" cy="112.6" r="1.95"/><circle cx="259.3" cy="115.4" r="1.95"/><circle cx="210.5" cy="116.3" r="1.95"/><circle cx="252.1" cy="93.5" r="1.95"/><circle cx="276.9" cy="98.1" r="1.95"/><circle cx="218.3" cy="80.1" r="1.95"/><circle cx="172.2" cy="86.9" r="1.95"/><circle cx="58.9" cy="94.2" r="1.95"/><circle cx="202.0" cy="138.2" r="1.95"/><circle cx="306.3" cy="146.3" r="1.95"/><circle cx="251.4" cy="109.4" r="1.95"/><circle cx="85.9" cy="109.6" r="1.95"/><circle cx="271.7" cy="106.0" r="1.95"/><circle cx="87.1" cy="93.4" r="1.95"/><circle cx="51.3" cy="76.7" r="1.95"/><circle cx="187.0" cy="68.2" r="1.95"/><circle cx="202.0" cy="123.5" r="1.95"/><circle cx="211.4" cy="106.5" r="1.95"/><circle cx="57.7" cy="85.7" r="1.95"/><circle cx="97.5" cy="130.2" r="1.95"/><circle cx="101.8" cy="119.6" r="1.95"/><circle cx="177.0" cy="101.0" r="1.95"/><circle cx="201.8" cy="105.8" r="1.95"/><circle cx="214.0" cy="121.7" r="1.95"/><circle cx="254.1" cy="118.2" r="1.95"/><circle cx="120.3" cy="172.1" r="1.95"/><circle cx="238.7" cy="133.7" r="1.95"/><circle cx="177.2" cy="64.3" r="1.95"/><circle cx="80.2" cy="100.3" r="1.95"/><circle cx="63.4" cy="101.5" r="1.95"/><circle cx="74.1" cy="82.0" r="1.95"/><circle cx="329.5" cy="178.0" r="1.95"/><circle cx="112.4" cy="168.7" r="1.95"/><circle cx="221.7" cy="121.8" r="1.95"/><circle cx="74.8" cy="113.1" r="1.95"/><circle cx="232.8" cy="95.3" r="1.95"/><circle cx="61.1" cy="103.2" r="1.95"/><circle cx="100.6" cy="104.1" r="1.95"/><circle cx="191.8" cy="111.5" r="1.95"/><circle cx="77.5" cy="101.4" r="1.95"/><circle cx="330.4" cy="182.8" r="1.95"/><circle cx="281.4" cy="85.6" r="1.95"/><circle cx="190.6" cy="56.9" r="1.95"/><circle cx="268.0" cy="129.8" r="1.95"/><circle cx="103.8" cy="118.1" r="1.95"/><circle cx="269.7" cy="109.3" r="1.95"/><circle cx="186.4" cy="85.6" r="1.95"/><circle cx="250.0" cy="112.6" r="1.95"/><circle cx="102.3" cy="133.7" r="1.95"/><circle cx="129.3" cy="155.1" r="1.95"/><circle cx="323.8" cy="158.7" r="1.95"/><circle cx="88.4" cy="100.9" r="1.95"/><circle cx="186.2" cy="73.6" r="1.95"/><circle cx="159.8" cy="129.7" r="1.95"/><circle cx="84.8" cy="101.4" r="1.95"/><circle cx="316.9" cy="80.4" r="1.95"/><circle cx="91.8" cy="100.5" r="1.95"/><circle cx="178.7" cy="98.5" r="1.95"/><circle cx="93.1" cy="96.0" r="1.95"/><circle cx="283.9" cy="126.3" r="1.95"/><circle cx="246.3" cy="118.8" r="1.95"/><circle cx="103.7" cy="91.7" r="1.95"/><circle cx="102.8" cy="89.4" r="1.95"/><circle cx="191.3" cy="171.5" r="1.95"/><circle cx="166.8" cy="94.7" r="1.95"/><circle cx="331.8" cy="174.2" r="1.95"/><circle cx="107.9" cy="157.4" r="1.95"/><circle cx="58.3" cy="91.6" r="1.95"/><circle cx="309.9" cy="69.1" r="1.95"/><circle cx="256.6" cy="127.4" r="1.95"/><circle cx="76.0" cy="104.0" r="1.95"/><circle cx="233.0" cy="114.5" r="1.95"/><circle cx="92.1" cy="127.5" r="1.95"/><circle cx="114.5" cy="126.5" r="1.95"/><circle cx="265.3" cy="141.7" r="1.95"/><circle cx="216.6" cy="97.7" r="1.95"/><circle cx="36.3" cy="59.4" r="1.95"/><circle cx="69.9" cy="74.8" r="1.95"/><circle cx="198.1" cy="152.3" r="1.95"/><circle cx="131.6" cy="157.4" r="1.95"/><circle cx="231.8" cy="73.9" r="1.95"/><circle cx="203.8" cy="114.7" r="1.95"/><circle cx="188.5" cy="112.3" r="1.95"/><circle cx="169.0" cy="104.2" r="1.95"/><circle cx="179.1" cy="91.9" r="1.95"/><circle cx="199.2" cy="139.9" r="1.95"/><circle cx="243.4" cy="112.2" r="1.95"/><circle cx="181.7" cy="133.7" r="1.95"/><circle cx="210.4" cy="97.1" r="1.95"/><circle cx="183.9" cy="65.5" r="1.95"/><circle cx="285.0" cy="141.5" r="1.95"/><circle cx="89.5" cy="103.9" r="1.95"/><circle cx="114.7" cy="155.1" r="1.95"/><circle cx="261.7" cy="98.1" r="1.95"/><circle cx="212.1" cy="75.9" r="1.95"/><circle cx="110.2" cy="167.5" r="1.95"/><circle cx="233.0" cy="55.6" r="1.95"/><circle cx="128.2" cy="147.2" r="1.95"/><circle cx="102.0" cy="106.0" r="1.95"/><circle cx="95.5" cy="121.5" r="1.95"/><circle cx="186.8" cy="56.4" r="1.95"/><circle cx="188.5" cy="59.0" r="1.95"/><circle cx="118.1" cy="172.1" r="1.95"/><circle cx="70.1" cy="89.6" r="1.95"/><circle cx="266.0" cy="126.8" r="1.95"/><circle cx="283.3" cy="132.2" r="1.95"/><circle cx="251.6" cy="93.0" r="1.95"/><circle cx="180.6" cy="63.1" r="1.95"/><circle cx="211.6" cy="94.6" r="1.95"/><circle cx="220.4" cy="103.1" r="1.95"/><circle cx="187.9" cy="159.1" r="1.95"/><circle cx="289.3" cy="112.7" r="1.95"/><circle cx="193.4" cy="79.5" r="1.95"/><circle cx="278.9" cy="100.5" r="1.95"/><circle cx="268.4" cy="112.7" r="1.95"/><circle cx="201.9" cy="49.9" r="1.95"/><circle cx="101.5" cy="120.6" r="1.95"/><circle cx="175.0" cy="103.8" r="1.95"/><circle cx="123.6" cy="88.5" r="1.95"/><circle cx="186.8" cy="108.3" r="1.95"/><circle cx="242.6" cy="130.8" r="1.95"/><circle cx="102.9" cy="91.3" r="1.95"/><circle cx="308.0" cy="173.1" r="1.95"/><circle cx="248.2" cy="109.5" r="1.95"/><circle cx="93.4" cy="109.6" r="1.95"/><circle cx="133.9" cy="157.4" r="1.95"/><circle cx="106.8" cy="161.9" r="1.95"/><circle cx="263.3" cy="121.0" r="1.95"/><circle cx="185.2" cy="112.1" r="1.95"/><circle cx="196.4" cy="165.9" r="1.95"/><circle cx="238.8" cy="97.4" r="1.95"/><circle cx="207.0" cy="91.3" r="1.95"/><circle cx="191.2" cy="100.4" r="1.95"/><circle cx="174.0" cy="83.6" r="1.95"/><circle cx="103.1" cy="115.3" r="1.95"/><circle cx="150.8" cy="124.7" r="1.95"/><circle cx="261.2" cy="135.4" r="1.95"/><circle cx="108.5" cy="194.5" r="1.95"/><circle cx="169.2" cy="92.0" r="1.95"/><circle cx="264.9" cy="117.4" r="1.95"/><circle cx="106.1" cy="96.4" r="1.95"/><circle cx="169.3" cy="80.3" r="1.95"/><circle cx="265.0" cy="123.8" r="1.95"/><circle cx="305.1" cy="153.6" r="1.95"/><circle cx="273.1" cy="138.1" r="1.95"/><circle cx="139.5" cy="142.7" r="1.95"/><circle cx="273.5" cy="144.2" r="1.95"/><circle cx="213.0" cy="109.2" r="1.95"/><circle cx="173.1" cy="95.3" r="1.95"/><circle cx="167.7" cy="132.6" r="1.95"/><circle cx="169.8" cy="88.7" r="1.95"/><circle cx="84.3" cy="106.2" r="1.95"/><circle cx="283.1" cy="167.7" r="1.95"/><circle cx="200.3" cy="108.3" r="1.95"/><circle cx="215.0" cy="112.2" r="1.95"/><circle cx="70.7" cy="100.7" r="1.95"/><circle cx="72.1" cy="110.4" r="1.95"/><circle cx="279.7" cy="157.9" r="1.95"/><circle cx="233.5" cy="114.4" r="1.95"/><circle cx="233.5" cy="113.3" r="1.95"/><circle cx="151.3" cy="61.2" r="1.95"/><circle cx="183.9" cy="77.4" r="1.95"/><circle cx="278.3" cy="112.5" r="1.95"/><circle cx="68.0" cy="94.5" r="1.95"/><circle cx="239.3" cy="106.5" r="1.95"/><circle cx="291.3" cy="104.0" r="1.95"/><circle cx="94.0" cy="98.2" r="1.95"/><circle cx="189.3" cy="62.6" r="1.95"/><circle cx="182.3" cy="103.4" r="1.95"/><circle cx="107.8" cy="191.0" r="1.95"/><circle cx="85.4" cy="109.3" r="1.95"/><circle cx="189.9" cy="80.0" r="1.95"/><circle cx="204.7" cy="117.0" r="1.95"/><circle cx="113.5" cy="129.2" r="1.95"/><circle cx="200.9" cy="133.7" r="1.95"/><circle cx="283.5" cy="121.2" r="1.95"/><circle cx="189.5" cy="60.3" r="1.95"/><circle cx="299.5" cy="157.0" r="1.95"/><circle cx="198.4" cy="100.1" r="1.95"/><circle cx="58.9" cy="98.5" r="1.95"/><circle cx="89.7" cy="90.8" r="1.95"/><circle cx="285.0" cy="100.1" r="1.95"/><circle cx="177.3" cy="72.2" r="1.95"/><circle cx="205.2" cy="100.5" r="1.95"/><circle cx="208.1" cy="89.0" r="1.95"/><circle cx="182.8" cy="142.7" r="1.95"/><circle cx="278.5" cy="93.0" r="1.95"/><circle cx="210.1" cy="108.8" r="1.95"/><circle cx="166.5" cy="89.4" r="1.95"/><circle cx="120.3" cy="152.9" r="1.95"/><circle cx="188.5" cy="48.5" r="1.95"/><circle cx="236.9" cy="83.8" r="1.95"/><circle cx="216.9" cy="102.8" r="1.95"/><circle cx="264.9" cy="135.0" r="1.95"/><circle cx="104.2" cy="119.0" r="1.95"/><circle cx="123.7" cy="163.0" r="1.95"/><circle cx="189.5" cy="47.9" r="1.95"/><circle cx="191.8" cy="58.1" r="1.95"/><circle cx="75.6" cy="115.4" r="1.95"/><circle cx="116.4" cy="124.2" r="1.95"/><circle cx="286.5" cy="102.8" r="1.95"/><circle cx="74.6" cy="113.3" r="1.95"/><circle cx="201.5" cy="111.1" r="1.95"/><circle cx="48.5" cy="71.8" r="1.95"/><circle cx="209.6" cy="60.1" r="1.95"/><circle cx="209.0" cy="111.2" r="1.95"/><circle cx="271.4" cy="117.9" r="1.95"/><circle cx="188.4" cy="105.4" r="1.95"/><circle cx="210.3" cy="102.5" r="1.95"/><circle cx="100.2" cy="130.3" r="1.95"/><circle cx="98.7" cy="121.7" r="1.95"/><circle cx="140.6" cy="145.0" r="1.95"/><circle cx="127.1" cy="142.7" r="1.95"/><circle cx="287.8" cy="103.1" r="1.95"/><circle cx="133.9" cy="141.6" r="1.95"/><circle cx="212.7" cy="123.5" r="1.95"/><circle cx="100.4" cy="136.4" r="1.95"/><circle cx="97.8" cy="124.0" r="1.95"/><circle cx="87.0" cy="104.3" r="1.95"/><circle cx="67.5" cy="107.0" r="1.95"/><circle cx="302.9" cy="89.0" r="1.95"/><circle cx="83.1" cy="85.1" r="1.95"/><circle cx="106.8" cy="170.9" r="1.95"/><circle cx="198.8" cy="118.1" r="1.95"/><circle cx="208.2" cy="93.8" r="1.95"/><circle cx="331.6" cy="181.5" r="1.95"/><circle cx="198.6" cy="112.2" r="1.95"/><circle cx="112.4" cy="154.0" r="1.95"/><circle cx="172.2" cy="132.6" r="1.95"/><circle cx="247.1" cy="112.8" r="1.95"/><circle cx="212.6" cy="87.4" r="1.95"/><circle cx="289.3" cy="141.5" r="1.95"/><circle cx="113.5" cy="123.8" r="1.95"/><circle cx="221.6" cy="105.4" r="1.95"/><circle cx="163.1" cy="80.6" r="1.95"/><circle cx="223.8" cy="114.2" r="1.95"/><circle cx="207.6" cy="129.7" r="1.95"/><circle cx="107.5" cy="181.5" r="1.95"/><circle cx="179.0" cy="132.6" r="1.95"/><circle cx="206.4" cy="76.1" r="1.95"/><circle cx="201.9" cy="78.4" r="1.95"/><circle cx="188.3" cy="94.2" r="1.95"/><circle cx="276.2" cy="103.9" r="1.95"/><circle cx="111.4" cy="127.1" r="1.95"/><circle cx="180.0" cy="100.9" r="1.95"/><circle cx="201.2" cy="117.2" r="1.95"/><circle cx="251.6" cy="116.1" r="1.95"/><circle cx="64.5" cy="105.4" r="1.95"/><circle cx="195.8" cy="154.6" r="1.95"/><circle cx="237.0" cy="100.3" r="1.95"/><circle cx="106.8" cy="150.6" r="1.95"/><circle cx="223.4" cy="82.7" r="1.95"/><circle cx="104.5" cy="130.3" r="1.95"/><circle cx="107.7" cy="126.2" r="1.95"/><circle cx="195.5" cy="93.7" r="1.95"/><circle cx="288.0" cy="135.4" r="1.95"/><circle cx="109.5" cy="91.9" r="1.95"/><circle cx="243.7" cy="95.3" r="1.95"/><circle cx="98.3" cy="89.6" r="1.95"/><circle cx="82.8" cy="110.3" r="1.95"/><circle cx="101.0" cy="142.5" r="1.95"/><circle cx="176.0" cy="92.1" r="1.95"/><circle cx="269.7" cy="97.9" r="1.95"/><circle cx="104.7" cy="188.0" r="1.95"/><circle cx="267.3" cy="81.7" r="1.95"/><circle cx="279.6" cy="108.9" r="1.95"/><circle cx="202.8" cy="85.5" r="1.95"/><circle cx="69.6" cy="103.9" r="1.95"/><circle cx="304.6" cy="123.7" r="1.95"/><circle cx="239.7" cy="130.4" r="1.95"/><circle cx="98.6" cy="88.8" r="1.95"/><circle cx="206.5" cy="139.3" r="1.95"/><circle cx="176.9" cy="94.7" r="1.95"/><circle cx="28.4" cy="117.3" r="1.95"/><circle cx="203.6" cy="108.4" r="1.95"/><circle cx="210.1" cy="90.9" r="1.95"/><circle cx="221.5" cy="111.8" r="1.95"/><circle cx="213.3" cy="126.4" r="1.95"/><circle cx="175.7" cy="75.3" r="1.95"/><circle cx="242.3" cy="97.8" r="1.95"/><circle cx="188.4" cy="66.0" r="1.95"/><circle cx="195.3" cy="76.8" r="1.95"/><circle cx="185.3" cy="70.5" r="1.95"/><circle cx="196.4" cy="161.3" r="1.95"/><circle cx="207.7" cy="116.4" r="1.95"/><circle cx="136.1" cy="150.6" r="1.95"/><circle cx="191.8" cy="63.7" r="1.95"/><circle cx="109.3" cy="197.5" r="1.95"/><circle cx="246.5" cy="93.0" r="1.95"/><circle cx="249.9" cy="75.2" r="1.95"/><circle cx="183.9" cy="146.1" r="1.95"/><circle cx="216.1" cy="112.8" r="1.95"/><circle cx="99.6" cy="145.3" r="1.95"/><circle cx="163.9" cy="83.3" r="1.95"/><circle cx="62.8" cy="77.0" r="1.95"/><circle cx="289.9" cy="127.4" r="1.95"/><circle cx="200.8" cy="84.6" r="1.95"/><circle cx="113.5" cy="146.1" r="1.95"/><circle cx="65.1" cy="85.4" r="1.95"/><circle cx="123.7" cy="152.9" r="1.95"/><circle cx="92.8" cy="91.5" r="1.95"/><circle cx="242.0" cy="56.7" r="1.95"/><circle cx="146.9" cy="100.0" r="1.95"/><circle cx="186.8" cy="97.6" r="1.95"/><circle cx="95.8" cy="107.3" r="1.95"/><circle cx="302.8" cy="89.1" r="1.95"/><circle cx="73.9" cy="107.0" r="1.95"/><circle cx="216.0" cy="90.2" r="1.95"/><circle cx="193.1" cy="97.6" r="1.95"/><circle cx="181.8" cy="97.7" r="1.95"/><circle cx="27.3" cy="117.9" r="1.95"/><circle cx="72.4" cy="111.1" r="1.95"/><circle cx="284.7" cy="118.3" r="1.95"/><circle cx="98.8" cy="119.3" r="1.95"/><circle cx="104.4" cy="98.1" r="1.95"/><circle cx="189.3" cy="102.8" r="1.95"/><circle cx="121.4" cy="157.4" r="1.95"/><circle cx="264.0" cy="102.1" r="1.95"/><circle cx="189.8" cy="85.2" r="1.95"/><circle cx="252.0" cy="121.6" r="1.95"/><circle cx="282.2" cy="111.6" r="1.95"/><circle cx="198.6" cy="88.9" r="1.95"/><circle cx="196.3" cy="59.2" r="1.95"/><circle cx="298.1" cy="103.2" r="1.95"/><circle cx="244.8" cy="101.5" r="1.95"/><circle cx="113.5" cy="159.6" r="1.95"/><circle cx="64.5" cy="89.4" r="1.95"/><circle cx="258.9" cy="132.5" r="1.95"/><circle cx="186.2" cy="126.9" r="1.95"/><circle cx="166.7" cy="83.8" r="1.95"/><circle cx="100.2" cy="103.2" r="1.95"/><circle cx="193.5" cy="46.8" r="1.95"/><circle cx="283.7" cy="143.8" r="1.95"/><circle cx="105.6" cy="152.9" r="1.95"/><circle cx="237.8" cy="121.9" r="1.95"/><circle cx="101.0" cy="124.2" r="1.95"/><circle cx="262.6" cy="138.5" r="1.95"/><circle cx="250.2" cy="95.0" r="1.95"/><circle cx="129.3" cy="159.6" r="1.95"/><circle cx="328.8" cy="184.3" r="1.95"/><circle cx="34.6" cy="66.9" r="1.95"/><circle cx="242.6" cy="125.0" r="1.95"/><circle cx="206.3" cy="103.2" r="1.95"/><circle cx="196.3" cy="96.9" r="1.95"/><circle cx="236.9" cy="94.2" r="1.95"/><circle cx="298.9" cy="171.7" r="1.95"/><circle cx="190.1" cy="97.2" r="1.95"/><circle cx="100.0" cy="148.4" r="1.95"/><circle cx="198.6" cy="163.0" r="1.95"/><circle cx="169.8" cy="78.0" r="1.95"/><circle cx="28.4" cy="118.5" r="1.95"/><circle cx="248.1" cy="121.5" r="1.95"/><circle cx="214.9" cy="82.9" r="1.95"/><circle cx="192.3" cy="76.6" r="1.95"/><circle cx="282.3" cy="135.7" r="1.95"/><circle cx="203.5" cy="103.1" r="1.95"/><circle cx="306.3" cy="155.9" r="1.95"/><circle cx="244.9" cy="131.4" r="1.95"/><circle cx="180.0" cy="83.9" r="1.95"/><circle cx="283.5" cy="115.5" r="1.95"/><circle cx="225.8" cy="113.3" r="1.95"/><circle cx="179.8" cy="88.8" r="1.95"/><circle cx="58.9" cy="88.5" r="1.95"/><circle cx="185.0" cy="53.4" r="1.95"/><circle cx="179.1" cy="86.9" r="1.95"/><circle cx="284.8" cy="147.4" r="1.95"/><circle cx="194.0" cy="67.1" r="1.95"/><circle cx="163.8" cy="106.8" r="1.95"/><circle cx="178.7" cy="103.9" r="1.95"/><circle cx="76.6" cy="113.2" r="1.95"/><circle cx="164.9" cy="126.9" r="1.95"/><circle cx="101.1" cy="112.9" r="1.95"/><circle cx="198.5" cy="80.6" r="1.95"/><circle cx="151.2" cy="61.2" r="1.95"/><circle cx="78.0" cy="113.3" r="1.95"/><circle cx="186.1" cy="54.7" r="1.95"/><circle cx="95.7" cy="100.5" r="1.95"/><circle cx="104.2" cy="124.6" r="1.95"/><circle cx="304.0" cy="124.6" r="1.95"/><circle cx="102.8" cy="113.5" r="1.95"/><circle cx="105.1" cy="174.3" r="1.95"/><circle cx="137.2" cy="140.5" r="1.95"/><circle cx="266.6" cy="138.4" r="1.95"/><circle cx="126.0" cy="161.9" r="1.95"/><circle cx="247.1" cy="77.2" r="1.95"/><circle cx="105.0" cy="121.1" r="1.95"/><circle cx="196.2" cy="80.1" r="1.95"/><circle cx="73.6" cy="112.5" r="1.95"/><circle cx="100.0" cy="137.1" r="1.95"/><circle cx="261.9" cy="117.8" r="1.95"/><circle cx="213.5" cy="114.5" r="1.95"/><circle cx="132.7" cy="159.6" r="1.95"/><circle cx="271.3" cy="146.6" r="1.95"/><circle cx="239.1" cy="134.2" r="1.95"/><circle cx="70.1" cy="108.8" r="1.95"/><circle cx="90.5" cy="97.8" r="1.95"/><circle cx="115.8" cy="128.1" r="1.95"/><circle cx="96.9" cy="118.2" r="1.95"/><circle cx="138.4" cy="148.4" r="1.95"/><circle cx="170.0" cy="133.1" r="1.95"/><circle cx="194.9" cy="83.2" r="1.95"/><circle cx="228.4" cy="109.9" r="1.95"/><circle cx="207.6" cy="144.4" r="1.95"/><circle cx="310.2" cy="171.1" r="1.95"/><circle cx="133.9" cy="152.9" r="1.95"/><circle cx="217.7" cy="115.7" r="1.95"/><circle cx="273.4" cy="102.9" r="1.95"/><circle cx="243.1" cy="118.7" r="1.95"/><circle cx="258.9" cy="98.1" r="1.95"/><circle cx="202.9" cy="97.2" r="1.95"/><circle cx="118.1" cy="130.3" r="1.95"/><circle cx="283.7" cy="154.2" r="1.95"/><circle cx="98.2" cy="99.5" r="1.95"/><circle cx="122.6" cy="164.2" r="1.95"/><circle cx="26.1" cy="116.7" r="1.95"/><circle cx="303.9" cy="93.0" r="1.95"/><circle cx="111.5" cy="121.3" r="1.95"/><circle cx="168.2" cy="73.9" r="1.95"/><circle cx="135.0" cy="156.3" r="1.95"/><circle cx="100.7" cy="110.0" r="1.95"/><circle cx="98.7" cy="139.5" r="1.95"/><circle cx="100.1" cy="96.4" r="1.95"/><circle cx="262.7" cy="132.8" r="1.95"/><circle cx="269.6" cy="144.6" r="1.95"/><circle cx="103.7" cy="112.6" r="1.95"/><circle cx="101.1" cy="140.5" r="1.95"/><circle cx="91.6" cy="106.5" r="1.95"/><circle cx="159.2" cy="110.5" r="1.95"/><circle cx="238.6" cy="77.2" r="1.95"/><circle cx="281.5" cy="141.4" r="1.95"/><circle cx="256.7" cy="75.9" r="1.95"/><circle cx="182.5" cy="68.9" r="1.95"/><circle cx="228.4" cy="103.2" r="1.95"/><circle cx="173.0" cy="101.4" r="1.95"/><circle cx="157.5" cy="121.3" r="1.95"/><circle cx="222.1" cy="113.2" r="1.95"/><circle cx="127.1" cy="138.2" r="1.95"/><circle cx="124.8" cy="166.4" r="1.95"/><circle cx="190.1" cy="68.7" r="1.95"/><circle cx="170.5" cy="126.9" r="1.95"/><circle cx="279.2" cy="157.0" r="1.95"/><circle cx="238.4" cy="116.1" r="1.95"/><circle cx="90.1" cy="125.1" r="1.95"/><circle cx="220.7" cy="116.3" r="1.95"/><circle cx="87.3" cy="124.6" r="1.95"/><circle cx="160.9" cy="110.6" r="1.95"/><circle cx="165.2" cy="92.0" r="1.95"/><circle cx="127.1" cy="152.9" r="1.95"/><circle cx="235.6" cy="106.5" r="1.95"/><circle cx="205.4" cy="88.3" r="1.95"/><circle cx="209.3" cy="118.6" r="1.95"/><circle cx="95.0" cy="89.6" r="1.95"/><circle cx="272.7" cy="109.0" r="1.95"/><circle cx="183.7" cy="89.5" r="1.95"/><circle cx="192.8" cy="103.5" r="1.95"/><circle cx="199.7" cy="69.3" r="1.95"/><circle cx="89.3" cy="138.4" r="1.95"/><circle cx="155.8" cy="110.5" r="1.95"/><circle cx="290.7" cy="64.8" r="1.95"/><circle cx="206.8" cy="114.3" r="1.95"/><circle cx="102.6" cy="119.0" r="1.95"/><circle cx="106.8" cy="166.4" r="1.95"/><circle cx="171.6" cy="76.1" r="1.95"/><circle cx="264.8" cy="111.9" r="1.95"/><circle cx="130.5" cy="149.5" r="1.95"/><circle cx="87.5" cy="99.6" r="1.95"/><circle cx="243.2" cy="94.2" r="1.95"/><circle cx="83.5" cy="103.6" r="1.95"/><circle cx="98.4" cy="106.1" r="1.95"/><circle cx="218.9" cy="105.6" r="1.95"/><circle cx="208.9" cy="100.0" r="1.95"/><circle cx="162.6" cy="132.0" r="1.95"/><circle cx="205.9" cy="112.8" r="1.95"/><circle cx="269.7" cy="133.0" r="1.95"/><circle cx="289.3" cy="137.2" r="1.95"/><circle cx="78.0" cy="96.7" r="1.95"/><circle cx="272.2" cy="112.2" r="1.95"/><circle cx="156.4" cy="111.1" r="1.95"/><circle cx="199.7" cy="166.4" r="1.95"/><circle cx="78.0" cy="105.4" r="1.95"/><circle cx="228.9" cy="104.8" r="1.95"/><circle cx="192.9" cy="90.9" r="1.95"/><circle cx="97.2" cy="104.4" r="1.95"/><circle cx="195.7" cy="55.2" r="1.95"/><circle cx="192.0" cy="65.6" r="1.95"/><circle cx="67.7" cy="83.4" r="1.95"/><circle cx="236.8" cy="83.4" r="1.95"/><circle cx="246.9" cy="94.4" r="1.95"/><circle cx="300.8" cy="98.1" r="1.95"/><circle cx="286.7" cy="106.4" r="1.95"/><circle cx="294.0" cy="103.3" r="1.95"/><circle cx="210.8" cy="110.6" r="1.95"/><circle cx="82.5" cy="109.1" r="1.95"/><circle cx="133.9" cy="146.1" r="1.95"/><circle cx="333.2" cy="180.0" r="1.95"/><circle cx="266.6" cy="115.5" r="1.95"/><circle cx="91.4" cy="88.8" r="1.95"/><circle cx="30.1" cy="119.6" r="1.95"/><circle cx="206.7" cy="97.6" r="1.95"/><circle cx="201.5" cy="112.8" r="1.95"/><circle cx="175.9" cy="86.3" r="1.95"/><circle cx="80.0" cy="113.4" r="1.95"/><circle cx="178.4" cy="68.8" r="1.95"/><circle cx="89.6" cy="91.7" r="1.95"/><circle cx="222.5" cy="117.8" r="1.95"/><circle cx="188.2" cy="71.4" r="1.95"/><circle cx="156.4" cy="124.7" r="1.95"/><circle cx="107.3" cy="89.6" r="1.95"/><circle cx="291.2" cy="89.1" r="1.95"/><circle cx="131.6" cy="143.9" r="1.95"/><circle cx="309.6" cy="160.4" r="1.95"/><circle cx="208.8" cy="141.6" r="1.95"/><circle cx="188.2" cy="77.2" r="1.95"/><circle cx="79.4" cy="92.9" r="1.95"/><circle cx="277.0" cy="114.8" r="1.95"/><circle cx="71.6" cy="94.9" r="1.95"/><circle cx="181.1" cy="126.9" r="1.95"/><circle cx="308.0" cy="158.1" r="1.95"/><circle cx="312.1" cy="166.0" r="1.95"/><circle cx="184.0" cy="53.5" r="1.95"/><circle cx="99.1" cy="127.4" r="1.95"/><circle cx="82.7" cy="109.5" r="1.95"/><circle cx="175.0" cy="98.4" r="1.95"/><circle cx="68.0" cy="101.3" r="1.95"/><circle cx="185.6" cy="87.9" r="1.95"/><circle cx="294.4" cy="160.4" r="1.95"/><circle cx="77.8" cy="118.1" r="1.95"/><circle cx="204.3" cy="137.6" r="1.95"/><circle cx="95.7" cy="95.2" r="1.95"/><circle cx="333.9" cy="154.7" r="1.95"/></g></g></defs>
<use href="#map" x="0" y="0"/>
<use href="#map" x="355.5" y="0"/>
<path d="M287.50,97.50 L287.50,198.90 L204.50,198.90 L204.50,250.00" fill="none" stroke="#777777" stroke-width="1.9"/>
<path d="M204.5,265.2 L197.5,240.7 L204.5,251.2 L211.5,240.7 Z" fill="#777777"/>
<path d="M653.30,122.70 L653.30,206.60 L541.90,206.60 L541.90,245.00" fill="none" stroke="#777777" stroke-width="1.9"/>
<path d="M541.9,260.0 L534.9,235.5 L541.9,246.0 L548.9,235.5 Z" fill="#777777"/>
<circle cx="286.7" cy="92.8" r="4.2" fill="#ef5b4b" stroke="#b8463a" stroke-width="0.6"/>
<circle cx="656.8" cy="99.5" r="3.3" fill="#ef5b4b" stroke="#b8463a" stroke-width="0.6"/>
<text x="266.00" y="82.00" font-size="20.0" text-anchor="start" font-weight="bold" font-style="normal" fill="#000" font-family="Liberation Sans, sans-serif" textLength="39.1" lengthAdjust="spacingAndGlyphs">CGQ</text>
<text x="649.50" y="121.00" font-size="21.5" text-anchor="start" font-weight="bold" font-style="normal" fill="#000" font-family="Liberation Sans, sans-serif" textLength="31.0" lengthAdjust="spacingAndGlyphs">SDJ</text>
</svg>
</body></html>
